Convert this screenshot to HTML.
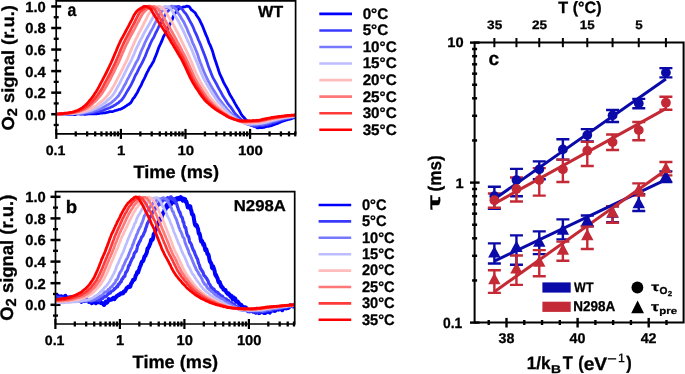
<!DOCTYPE html>
<html><head><meta charset="utf-8"><style>
html,body{margin:0;padding:0;background:#fff;overflow:hidden;}
svg{display:block;will-change:transform;}
text{font-family:"Liberation Sans",sans-serif;font-weight:bold;fill:#000;stroke:#000;stroke-width:0.3px;text-rendering:geometricPrecision;}
</style></head><body>
<svg width="685" height="374" viewBox="0 0 685 374">
<rect width="685" height="374" fill="#fff"/>
<path d="M51.2 114.2 H61.2" stroke="#000" stroke-width="2.5"/>
<path d="M51.2 92.65 H61.2" stroke="#000" stroke-width="2.5"/>
<path d="M51.2 71.1 H61.2" stroke="#000" stroke-width="2.5"/>
<path d="M51.2 49.55 H61.2" stroke="#000" stroke-width="2.5"/>
<path d="M51.2 28 H61.2" stroke="#000" stroke-width="2.5"/>
<path d="M51.2 6.45 H61.2" stroke="#000" stroke-width="2.5"/>
<path d="M53.7 124.98 H58.7" stroke="#000" stroke-width="2.3"/>
<path d="M53.7 103.42 H58.7" stroke="#000" stroke-width="2.3"/>
<path d="M53.7 81.88 H58.7" stroke="#000" stroke-width="2.3"/>
<path d="M53.7 60.33 H58.7" stroke="#000" stroke-width="2.3"/>
<path d="M53.7 38.78 H58.7" stroke="#000" stroke-width="2.3"/>
<path d="M53.7 17.22 H58.7" stroke="#000" stroke-width="2.3"/>
<path d="M56.3 128.9 V138.9" stroke="#000" stroke-width="2.2"/>
<path d="M75.75 131.4 V136.4" stroke="#000" stroke-width="2.3"/>
<path d="M87.12 131.4 V136.4" stroke="#000" stroke-width="2.3"/>
<path d="M95.19 131.4 V136.4" stroke="#000" stroke-width="2.3"/>
<path d="M101.45 131.4 V136.4" stroke="#000" stroke-width="2.3"/>
<path d="M106.57 131.4 V136.4" stroke="#000" stroke-width="2.3"/>
<path d="M110.89 131.4 V136.4" stroke="#000" stroke-width="2.3"/>
<path d="M114.64 131.4 V136.4" stroke="#000" stroke-width="2.3"/>
<path d="M117.94 131.4 V136.4" stroke="#000" stroke-width="2.3"/>
<path d="M120.9 128.9 V138.9" stroke="#000" stroke-width="2.2"/>
<path d="M140.35 131.4 V136.4" stroke="#000" stroke-width="2.3"/>
<path d="M151.72 131.4 V136.4" stroke="#000" stroke-width="2.3"/>
<path d="M159.79 131.4 V136.4" stroke="#000" stroke-width="2.3"/>
<path d="M166.05 131.4 V136.4" stroke="#000" stroke-width="2.3"/>
<path d="M171.17 131.4 V136.4" stroke="#000" stroke-width="2.3"/>
<path d="M175.49 131.4 V136.4" stroke="#000" stroke-width="2.3"/>
<path d="M179.24 131.4 V136.4" stroke="#000" stroke-width="2.3"/>
<path d="M182.54 131.4 V136.4" stroke="#000" stroke-width="2.3"/>
<path d="M185.5 128.9 V138.9" stroke="#000" stroke-width="2.2"/>
<path d="M204.95 131.4 V136.4" stroke="#000" stroke-width="2.3"/>
<path d="M216.32 131.4 V136.4" stroke="#000" stroke-width="2.3"/>
<path d="M224.39 131.4 V136.4" stroke="#000" stroke-width="2.3"/>
<path d="M230.65 131.4 V136.4" stroke="#000" stroke-width="2.3"/>
<path d="M235.77 131.4 V136.4" stroke="#000" stroke-width="2.3"/>
<path d="M240.09 131.4 V136.4" stroke="#000" stroke-width="2.3"/>
<path d="M243.84 131.4 V136.4" stroke="#000" stroke-width="2.3"/>
<path d="M247.14 131.4 V136.4" stroke="#000" stroke-width="2.3"/>
<path d="M250.1 128.9 V138.9" stroke="#000" stroke-width="2.2"/>
<path d="M269.55 131.4 V136.4" stroke="#000" stroke-width="2.3"/>
<path d="M280.92 131.4 V136.4" stroke="#000" stroke-width="2.3"/>
<path d="M288.99 131.4 V136.4" stroke="#000" stroke-width="2.3"/>
<path d="M295.25 131.4 V136.4" stroke="#000" stroke-width="2.3"/>
<path d="M50.5 304.8 H60.5" stroke="#000" stroke-width="2.5"/>
<path d="M50.5 283.2 H60.5" stroke="#000" stroke-width="2.5"/>
<path d="M50.5 261.6 H60.5" stroke="#000" stroke-width="2.5"/>
<path d="M50.5 240 H60.5" stroke="#000" stroke-width="2.5"/>
<path d="M50.5 218.4 H60.5" stroke="#000" stroke-width="2.5"/>
<path d="M50.5 196.8 H60.5" stroke="#000" stroke-width="2.5"/>
<path d="M53 315.6 H58" stroke="#000" stroke-width="2.3"/>
<path d="M53 294 H58" stroke="#000" stroke-width="2.3"/>
<path d="M53 272.4 H58" stroke="#000" stroke-width="2.3"/>
<path d="M53 250.8 H58" stroke="#000" stroke-width="2.3"/>
<path d="M53 229.2 H58" stroke="#000" stroke-width="2.3"/>
<path d="M53 207.6 H58" stroke="#000" stroke-width="2.3"/>
<path d="M55.4 319 V329" stroke="#000" stroke-width="2.2"/>
<path d="M74.82 321.5 V326.5" stroke="#000" stroke-width="2.3"/>
<path d="M86.17 321.5 V326.5" stroke="#000" stroke-width="2.3"/>
<path d="M94.23 321.5 V326.5" stroke="#000" stroke-width="2.3"/>
<path d="M100.48 321.5 V326.5" stroke="#000" stroke-width="2.3"/>
<path d="M105.59 321.5 V326.5" stroke="#000" stroke-width="2.3"/>
<path d="M109.91 321.5 V326.5" stroke="#000" stroke-width="2.3"/>
<path d="M113.65 321.5 V326.5" stroke="#000" stroke-width="2.3"/>
<path d="M116.95 321.5 V326.5" stroke="#000" stroke-width="2.3"/>
<path d="M119.9 319 V329" stroke="#000" stroke-width="2.2"/>
<path d="M139.32 321.5 V326.5" stroke="#000" stroke-width="2.3"/>
<path d="M150.67 321.5 V326.5" stroke="#000" stroke-width="2.3"/>
<path d="M158.73 321.5 V326.5" stroke="#000" stroke-width="2.3"/>
<path d="M164.98 321.5 V326.5" stroke="#000" stroke-width="2.3"/>
<path d="M170.09 321.5 V326.5" stroke="#000" stroke-width="2.3"/>
<path d="M174.41 321.5 V326.5" stroke="#000" stroke-width="2.3"/>
<path d="M178.15 321.5 V326.5" stroke="#000" stroke-width="2.3"/>
<path d="M181.45 321.5 V326.5" stroke="#000" stroke-width="2.3"/>
<path d="M184.4 319 V329" stroke="#000" stroke-width="2.2"/>
<path d="M203.82 321.5 V326.5" stroke="#000" stroke-width="2.3"/>
<path d="M215.17 321.5 V326.5" stroke="#000" stroke-width="2.3"/>
<path d="M223.23 321.5 V326.5" stroke="#000" stroke-width="2.3"/>
<path d="M229.48 321.5 V326.5" stroke="#000" stroke-width="2.3"/>
<path d="M234.59 321.5 V326.5" stroke="#000" stroke-width="2.3"/>
<path d="M238.91 321.5 V326.5" stroke="#000" stroke-width="2.3"/>
<path d="M242.65 321.5 V326.5" stroke="#000" stroke-width="2.3"/>
<path d="M245.95 321.5 V326.5" stroke="#000" stroke-width="2.3"/>
<path d="M248.9 319 V329" stroke="#000" stroke-width="2.2"/>
<path d="M268.32 321.5 V326.5" stroke="#000" stroke-width="2.3"/>
<path d="M279.67 321.5 V326.5" stroke="#000" stroke-width="2.3"/>
<path d="M287.73 321.5 V326.5" stroke="#000" stroke-width="2.3"/>
<path d="M293.98 321.5 V326.5" stroke="#000" stroke-width="2.3"/>
<clipPath id="ca"><rect x="57.05" y="0.8" width="238.55" height="133.1"/></clipPath>
<g clip-path="url(#ca)" fill="none" stroke-width="2.8" stroke-linejoin="round" stroke-linecap="round">
<path d="M55.01 113.94 L55.98 114.1 L56.95 114.41 L57.91 114.25 L58.88 114.14 L59.85 114.27 L60.82 114.19 L61.79 114.17 L62.76 114.2 L63.73 114.2 L64.7 114.07 L65.67 114.03 L66.64 114.24 L67.6 114.07 L68.57 114.08 L69.54 114.18 L70.51 114.35 L71.48 114.16 L72.45 114.01 L73.42 114.4 L74.39 114.68 L75.36 114.58 L76.33 114.12 L77.29 113.74 L78.26 113.8 L79.23 113.86 L80.2 114.02 L81.17 113.98 L82.14 114.13 L83.11 114.13 L84.08 114.23 L85.05 114.27 L86.02 114.18 L86.98 114.12 L87.95 113.89 L88.92 113.92 L89.89 113.95 L90.86 113.92 L91.83 113.75 L92.8 113.86 L93.77 113.73 L94.74 113.79 L95.71 113.84 L96.67 113.74 L97.64 113.66 L98.61 113.51 L99.58 113.38 L100.55 113.18 L101.52 113.05 L102.49 113.06 L103.46 112.97 L104.43 112.86 L105.4 112.8 L106.36 112.5 L107.33 112.29 L108.3 112.11 L109.27 111.67 L110.24 111.65 L111.21 111.7 L112.18 111.56 L113.15 111.32 L114.12 111.01 L115.09 110.58 L116.05 110.47 L117.02 110.19 L117.99 109.83 L118.96 109.41 L119.93 109.34 L120.9 108.94 L121.87 108.43 L122.84 107.9 L123.81 107.42 L124.78 106.94 L125.74 106.24 L126.71 105.54 L127.68 104.75 L128.65 104.47 L129.62 103.63 L130.59 102.85 L131.56 101.51 L132.53 99.58 L133.5 98.15 L134.47 97.21 L135.43 95.57 L136.4 93.92 L137.37 92.46 L138.34 90.38 L139.31 88.37 L140.28 86.69 L141.25 85.04 L142.22 82.65 L143.19 80.65 L144.16 78.82 L145.12 76.87 L146.09 74.58 L147.06 72.54 L148.03 70.86 L149 68.9 L149.97 67.12 L150.94 65.86 L151.91 64.08 L152.88 62.59 L153.85 60.53 L154.81 58.06 L155.78 55.69 L156.75 53.21 L157.72 50.51 L158.69 47.78 L159.66 45.58 L160.63 43.67 L161.6 41.39 L162.57 39.09 L163.54 36.54 L164.5 35.04 L165.47 33.19 L166.44 31.17 L167.41 29.19 L168.38 27.09 L169.35 25.23 L170.32 23.68 L171.29 21.63 L172.26 19.51 L173.23 16.76 L174.19 14.42 L175.16 13.08 L176.13 11.98 L177.1 10.73 L178.07 9.75 L179.04 8.48 L180.01 7.86 L180.98 7.66 L181.95 7.54 L182.92 7.16 L183.88 6.79 L184.85 6.95 L185.82 6.53 L186.79 6.04 L187.76 6.3 L188.73 6.37 L189.7 7.22 L190.67 8.78 L191.64 10.03 L192.61 10.62 L193.57 11.5 L194.54 12.25 L195.51 13.3 L196.48 15.28 L197.45 16.71 L198.42 18.01 L199.39 19.58 L200.36 21.61 L201.33 23.63 L202.3 25.55 L203.26 27.97 L204.23 30.47 L205.2 32.87 L206.17 35.38 L207.14 37.54 L208.11 40.14 L209.08 43.17 L210.05 44.84 L211.02 47.16 L211.99 49.67 L212.95 52.63 L213.92 56.28 L214.89 59.24 L215.86 61.95 L216.83 64.96 L217.8 67.86 L218.77 71.01 L219.74 73.91 L220.71 75.88 L221.68 77.88 L222.64 80.13 L223.61 82.37 L224.58 84.2 L225.55 85.84 L226.52 87.57 L227.49 89.43 L228.46 91.63 L229.43 93.76 L230.4 95.47 L231.37 97.01 L232.33 98.6 L233.3 100.18 L234.27 102.15 L235.24 103.92 L236.21 105.6 L237.18 107.18 L238.15 108.6 L239.12 110.23 L240.09 112.06 L241.06 113.89 L242.02 115.38 L242.99 116.6 L243.96 117.52 L244.93 118.67 L245.9 119.9 L246.87 120.69 L247.84 121.67 L248.81 122.38 L249.78 122.99 L250.75 123.88 L251.71 124.54 L252.68 125.39 L253.65 126.07 L254.62 126.27 L255.59 126.82 L256.56 127.45 L257.53 127.85 L258.5 127.74 L259.47 127.44 L260.44 127.5 L261.4 127.61 L262.37 127.55 L263.34 127.4 L264.31 127.33 L265.28 126.83 L266.25 126.6 L267.22 126.46 L268.19 126.45 L269.16 126.09 L270.13 125.89 L271.09 125.87 L272.06 125.38 L273.03 124.96 L274 124.73 L274.97 124.34 L275.94 123.86 L276.91 123.6 L277.88 123.33 L278.85 122.76 L279.82 122.33 L280.78 121.94 L281.75 121.54 L282.72 121.13 L283.69 120.88 L284.66 120.65 L285.63 120.23 L286.6 119.79 L287.57 119.76 L288.54 119.33 L289.51 119.24 L290.47 119.07 L291.44 118.68 L292.41 118.22 L293.38 117.91 L294.35 117.84 L295.32 117.24 L296.29 117" stroke="#0000ff"/>
<path d="M55.01 113.98 L55.98 114.17 L56.95 114.38 L57.91 114.55 L58.88 114.29 L59.85 114.21 L60.82 114.21 L61.79 114.08 L62.76 114.08 L63.73 114.26 L64.7 114.27 L65.67 114.14 L66.64 113.95 L67.6 113.98 L68.57 114.22 L69.54 114.17 L70.51 113.86 L71.48 113.71 L72.45 113.9 L73.42 113.96 L74.39 113.79 L75.36 113.83 L76.33 113.69 L77.29 113.55 L78.26 113.63 L79.23 113.69 L80.2 113.65 L81.17 113.74 L82.14 113.71 L83.11 113.66 L84.08 113.57 L85.05 113.5 L86.02 113.4 L86.98 113.29 L87.95 113.14 L88.92 113 L89.89 112.81 L90.86 112.66 L91.83 112.75 L92.8 112.42 L93.77 112.39 L94.74 112.39 L95.71 112.1 L96.67 111.79 L97.64 111.56 L98.61 111.55 L99.58 111.28 L100.55 111.09 L101.52 111.08 L102.49 110.74 L103.46 110.16 L104.43 109.72 L105.4 109.33 L106.36 109.02 L107.33 108.68 L108.3 108.26 L109.27 107.79 L110.24 107.56 L111.21 107.07 L112.18 106.58 L113.15 106.21 L114.12 105.47 L115.09 105.05 L116.05 104.34 L117.02 103.47 L117.99 103.1 L118.96 102.34 L119.93 101.33 L120.9 100.72 L121.87 99.76 L122.84 98.45 L123.81 97.02 L124.78 95.47 L125.74 93.85 L126.71 92.13 L127.68 90.48 L128.65 88.9 L129.62 87.35 L130.59 85.69 L131.56 83.89 L132.53 81.74 L133.5 79.91 L134.47 77.52 L135.43 75.35 L136.4 73.8 L137.37 71.92 L138.34 69.82 L139.31 67.77 L140.28 66.17 L141.25 64.42 L142.22 62.66 L143.19 60.65 L144.16 58.46 L145.12 56.49 L146.09 54 L147.06 51.38 L148.03 49.04 L149 47.09 L149.97 44.63 L150.94 42.47 L151.91 40.43 L152.88 38.7 L153.85 37.13 L154.81 35 L155.78 32.76 L156.75 30.98 L157.72 29.08 L158.69 26.78 L159.66 24.85 L160.63 23.32 L161.6 21.45 L162.57 20.41 L163.54 18.69 L164.5 16.26 L165.47 14.52 L166.44 12.88 L167.41 11.6 L168.38 10.65 L169.35 9.58 L170.32 8.92 L171.29 8.52 L172.26 7.65 L173.23 6.99 L174.19 6.54 L175.16 6.86 L176.13 6.69 L177.1 6.59 L178.07 6.42 L179.04 6.37 L180.01 7.23 L180.98 8.29 L181.95 9.02 L182.92 10.08 L183.88 11.68 L184.85 12.76 L185.82 13.63 L186.79 15.16 L187.76 16.97 L188.73 18.74 L189.7 20.59 L190.67 22.55 L191.64 24.03 L192.61 26.01 L193.57 28.33 L194.54 30.79 L195.51 32.87 L196.48 34.85 L197.45 37.23 L198.42 39.72 L199.39 41.86 L200.36 44.1 L201.33 46.71 L202.3 49.16 L203.26 51.7 L204.23 54.31 L205.2 56.75 L206.17 59.52 L207.14 62.34 L208.11 65.36 L209.08 68.09 L210.05 70.58 L211.02 73.09 L211.99 75.44 L212.95 77.65 L213.92 79.41 L214.89 81.05 L215.86 82.85 L216.83 84.71 L217.8 86.64 L218.77 88.36 L219.74 90.16 L220.71 91.82 L221.68 93.68 L222.64 95.46 L223.61 97.05 L224.58 98.45 L225.55 99.96 L226.52 101.52 L227.49 103.06 L228.46 104.37 L229.43 105.73 L230.4 106.78 L231.37 108.16 L232.33 109.51 L233.3 110.92 L234.27 112.49 L235.24 113.79 L236.21 114.74 L237.18 115.63 L238.15 116.85 L239.12 117.79 L240.09 118.63 L241.06 119.66 L242.02 120.46 L242.99 120.98 L243.96 121.51 L244.93 122.03 L245.9 122.41 L246.87 123.09 L247.84 123.59 L248.81 123.92 L249.78 124.48 L250.75 125.29 L251.71 125.57 L252.68 125.69 L253.65 126.11 L254.62 126.24 L255.59 126.26 L256.56 126.23 L257.53 126.09 L258.5 125.77 L259.47 125.45 L260.44 125.33 L261.4 125.49 L262.37 125.62 L263.34 125.33 L264.31 125.11 L265.28 124.9 L266.25 124.82 L267.22 124.74 L268.19 124.37 L269.16 124.26 L270.13 123.84 L271.09 123.33 L272.06 122.91 L273.03 122.61 L274 122.66 L274.97 122.17 L275.94 121.74 L276.91 121.51 L277.88 121.18 L278.85 120.97 L279.82 120.49 L280.78 120.18 L281.75 120.06 L282.72 119.77 L283.69 119.44 L284.66 119.15 L285.63 118.74 L286.6 118.5 L287.57 118.16 L288.54 117.95 L289.51 117.91 L290.47 117.82 L291.44 117.72 L292.41 117.55 L293.38 117.3 L294.35 117.03 L295.32 116.94 L296.29 116.71" stroke="#3a3aff"/>
<path d="M55.01 114.17 L55.98 114.23 L56.95 114.23 L57.91 114.3 L58.88 114.16 L59.85 114.24 L60.82 114.14 L61.79 114.1 L62.76 114.02 L63.73 113.74 L64.7 113.92 L65.67 113.88 L66.64 113.83 L67.6 113.93 L68.57 113.76 L69.54 113.75 L70.51 113.72 L71.48 113.86 L72.45 113.82 L73.42 113.56 L74.39 113.53 L75.36 113.53 L76.33 113.44 L77.29 113.45 L78.26 113.61 L79.23 113.7 L80.2 113.6 L81.17 113.52 L82.14 113.42 L83.11 113.14 L84.08 112.94 L85.05 112.74 L86.02 112.57 L86.98 112.48 L87.95 112.32 L88.92 112.14 L89.89 112.04 L90.86 111.82 L91.83 111.53 L92.8 111.34 L93.77 111.09 L94.74 110.72 L95.71 110.3 L96.67 110.1 L97.64 109.91 L98.61 109.62 L99.58 109.12 L100.55 108.63 L101.52 108.58 L102.49 107.9 L103.46 107.27 L104.43 106.76 L105.4 106.31 L106.36 105.5 L107.33 104.97 L108.3 104.54 L109.27 103.98 L110.24 103.41 L111.21 102.68 L112.18 101.9 L113.15 101.02 L114.12 100.23 L115.09 99.39 L116.05 98.37 L117.02 97.34 L117.99 96.3 L118.96 95.03 L119.93 93.31 L120.9 91.86 L121.87 90.28 L122.84 88.44 L123.81 86.53 L124.78 84.74 L125.74 83.17 L126.71 81 L127.68 79.01 L128.65 77.35 L129.62 75.46 L130.59 73.53 L131.56 71.62 L132.53 69.81 L133.5 67.93 L134.47 65.87 L135.43 63.86 L136.4 61.91 L137.37 60.42 L138.34 58.54 L139.31 55.96 L140.28 53.48 L141.25 51.01 L142.22 48.86 L143.19 46.86 L144.16 44.61 L145.12 42.26 L146.09 40.32 L147.06 38.5 L148.03 36.46 L149 34.85 L149.97 32.94 L150.94 31.03 L151.91 29.46 L152.88 27.65 L153.85 25.56 L154.81 23.65 L155.78 21.85 L156.75 20.11 L157.72 18.41 L158.69 16.3 L159.66 14 L160.63 12.82 L161.6 11.55 L162.57 10.66 L163.54 9.44 L164.5 8.54 L165.47 8.09 L166.44 7.91 L167.41 7.6 L168.38 6.98 L169.35 7.03 L170.32 6.8 L171.29 6.11 L172.26 6.14 L173.23 6.92 L174.19 7.81 L175.16 8.7 L176.13 9.62 L177.1 11.25 L178.07 13.01 L179.04 14.34 L180.01 15.74 L180.98 17.6 L181.95 19.17 L182.92 20.58 L183.88 22.18 L184.85 24.34 L185.82 26.38 L186.79 28.32 L187.76 30.93 L188.73 33.16 L189.7 35.11 L190.67 37.35 L191.64 40.01 L192.61 42.76 L193.57 44.66 L194.54 46.81 L195.51 49.23 L196.48 51.53 L197.45 54.04 L198.42 57 L199.39 60.05 L200.36 62.61 L201.33 64.88 L202.3 67.42 L203.26 69.96 L204.23 72.37 L205.2 74.5 L206.17 76.55 L207.14 78.67 L208.11 80.7 L209.08 82.31 L210.05 84.15 L211.02 86.08 L211.99 87.54 L212.95 89.32 L213.92 90.84 L214.89 92.15 L215.86 93.77 L216.83 95.54 L217.8 97.09 L218.77 98.49 L219.74 100 L220.71 101.16 L221.68 102.38 L222.64 103.54 L223.61 104.83 L224.58 106.1 L225.55 107.16 L226.52 108.35 L227.49 109.61 L228.46 110.75 L229.43 111.83 L230.4 112.82 L231.37 113.79 L232.33 114.83 L233.3 115.8 L234.27 116.54 L235.24 117.18 L236.21 117.94 L237.18 118.85 L238.15 119.51 L239.12 120.23 L240.09 120.96 L241.06 121.41 L242.02 121.79 L242.99 122.25 L243.96 122.73 L244.93 123.18 L245.9 123.57 L246.87 124.09 L247.84 124.47 L248.81 124.57 L249.78 124.76 L250.75 124.82 L251.71 124.88 L252.68 124.79 L253.65 124.95 L254.62 124.92 L255.59 124.61 L256.56 124.44 L257.53 124.5 L258.5 124.25 L259.47 124.09 L260.44 124.1 L261.4 124.2 L262.37 124.31 L263.34 124.15 L264.31 123.81 L265.28 123.45 L266.25 123.26 L267.22 123.05 L268.19 122.77 L269.16 122.58 L270.13 122.19 L271.09 121.89 L272.06 121.47 L273.03 121.28 L274 121.15 L274.97 120.94 L275.94 120.71 L276.91 120.32 L277.88 120.08 L278.85 119.71 L279.82 119.3 L280.78 119.08 L281.75 118.77 L282.72 118.37 L283.69 118.27 L284.66 118.14 L285.63 118.11 L286.6 118.02 L287.57 117.76 L288.54 117.74 L289.51 117.68 L290.47 117.19 L291.44 116.98 L292.41 116.9 L293.38 116.59 L294.35 116.52 L295.32 116.5 L296.29 116.4" stroke="#7878ff"/>
<path d="M55.01 114.24 L55.98 114.14 L56.95 114.12 L57.91 114.05 L58.88 113.96 L59.85 113.95 L60.82 113.88 L61.79 113.85 L62.76 113.84 L63.73 113.99 L64.7 114.01 L65.67 113.95 L66.64 113.79 L67.6 113.73 L68.57 113.63 L69.54 113.6 L70.51 113.53 L71.48 113.36 L72.45 113.39 L73.42 113.44 L74.39 113.41 L75.36 113.19 L76.33 113.13 L77.29 113.18 L78.26 113.05 L79.23 112.92 L80.2 112.9 L81.17 112.65 L82.14 112.4 L83.11 112.38 L84.08 112.07 L85.05 111.78 L86.02 111.73 L86.98 111.54 L87.95 111.21 L88.92 110.9 L89.89 110.65 L90.86 110.48 L91.83 110.12 L92.8 109.69 L93.77 109.29 L94.74 108.83 L95.71 108.49 L96.67 108.01 L97.64 107.35 L98.61 106.92 L99.58 106.42 L100.55 105.75 L101.52 105.07 L102.49 104.34 L103.46 103.67 L104.43 103.05 L105.4 102.35 L106.36 101.54 L107.33 100.54 L108.3 99.62 L109.27 98.86 L110.24 97.89 L111.21 96.88 L112.18 95.85 L113.15 94.64 L114.12 93.22 L115.09 91.71 L116.05 89.92 L117.02 88.07 L117.99 86.28 L118.96 84.6 L119.93 82.8 L120.9 80.8 L121.87 78.81 L122.84 77.13 L123.81 75.23 L124.78 73.16 L125.74 71.09 L126.71 69.19 L127.68 67.2 L128.65 65.36 L129.62 63.44 L130.59 61.59 L131.56 59.6 L132.53 57.43 L133.5 55.35 L134.47 53 L135.43 50.5 L136.4 48.3 L137.37 46.4 L138.34 44.59 L139.31 42.33 L140.28 40.34 L141.25 38.64 L142.22 36.95 L143.19 34.81 L144.16 32.85 L145.12 31.21 L146.09 29.51 L147.06 27.98 L148.03 26.23 L149 24.56 L149.97 22.85 L150.94 21.01 L151.91 19.29 L152.88 17.52 L153.85 15.73 L154.81 14.03 L155.78 12.63 L156.75 11.54 L157.72 10.67 L158.69 9.72 L159.66 9.11 L160.63 8.3 L161.6 7.84 L162.57 7.73 L163.54 7.12 L164.5 6.53 L165.47 6.42 L166.44 6.54 L167.41 6.71 L168.38 7.03 L169.35 7.64 L170.32 8.4 L171.29 9.44 L172.26 10.9 L173.23 12.65 L174.19 14.39 L175.16 16.01 L176.13 17.47 L177.1 18.96 L178.07 20.7 L179.04 22.39 L180.01 24.43 L180.98 26.27 L181.95 28.2 L182.92 30.06 L183.88 32.09 L184.85 34.28 L185.82 36.57 L186.79 38.75 L187.76 40.83 L188.73 42.87 L189.7 45.13 L190.67 47.19 L191.64 49.34 L192.61 51.75 L193.57 54.18 L194.54 56.75 L195.51 59.06 L196.48 61.33 L197.45 63.78 L198.42 66.09 L199.39 68.43 L200.36 70.86 L201.33 73.26 L202.3 75.49 L203.26 77.65 L204.23 79.5 L205.2 81.12 L206.17 83.08 L207.14 84.85 L208.11 86.4 L209.08 87.94 L210.05 89.52 L211.02 91.24 L211.99 92.9 L212.95 94.4 L213.92 95.74 L214.89 97.17 L215.86 98.71 L216.83 100.04 L217.8 101.25 L218.77 102.49 L219.74 103.57 L220.71 104.6 L221.68 105.79 L222.64 106.76 L223.61 107.76 L224.58 108.9 L225.55 109.84 L226.52 110.92 L227.49 111.98 L228.46 112.88 L229.43 113.83 L230.4 114.69 L231.37 115.51 L232.33 116.28 L233.3 116.99 L234.27 117.66 L235.24 118.3 L236.21 118.99 L237.18 119.57 L238.15 120.09 L239.12 120.52 L240.09 120.97 L241.06 121.36 L242.02 121.91 L242.99 122.48 L243.96 122.82 L244.93 123.13 L245.9 123.36 L246.87 123.63 L247.84 123.78 L248.81 123.92 L249.78 124.07 L250.75 124.06 L251.71 124.02 L252.68 123.95 L253.65 123.64 L254.62 123.74 L255.59 123.9 L256.56 123.84 L257.53 123.64 L258.5 123.59 L259.47 123.61 L260.44 123.51 L261.4 123.28 L262.37 123.11 L263.34 122.89 L264.31 122.67 L265.28 122.44 L266.25 122.33 L267.22 121.99 L268.19 121.77 L269.16 121.5 L270.13 121.16 L271.09 121.04 L272.06 120.73 L273.03 120.42 L274 120.14 L274.97 120.02 L275.94 119.69 L276.91 119.4 L277.88 119.19 L278.85 118.96 L279.82 118.78 L280.78 118.65 L281.75 118.43 L282.72 118.24 L283.69 117.86 L284.66 117.66 L285.63 117.61 L286.6 117.33 L287.57 117.24 L288.54 117.21 L289.51 116.99 L290.47 116.73 L291.44 116.63 L292.41 116.54 L293.38 116.32 L294.35 116.22 L295.32 116.17 L296.29 116.1" stroke="#bcbcff"/>
<path d="M55.01 114.11 L55.98 114.13 L56.95 114.12 L57.91 114.13 L58.88 114.16 L59.85 114.07 L60.82 114.04 L61.79 113.94 L62.76 113.87 L63.73 113.77 L64.7 113.75 L65.67 113.73 L66.64 113.69 L67.6 113.57 L68.57 113.51 L69.54 113.41 L70.51 113.31 L71.48 113.24 L72.45 113.25 L73.42 113.25 L74.39 113.1 L75.36 112.87 L76.33 112.69 L77.29 112.56 L78.26 112.51 L79.23 112.36 L80.2 112.08 L81.17 111.86 L82.14 111.7 L83.11 111.51 L84.08 111.31 L85.05 110.96 L86.02 110.59 L86.98 110.33 L87.95 109.97 L88.92 109.55 L89.89 109.17 L90.86 108.79 L91.83 108.28 L92.8 107.77 L93.77 107.23 L94.74 106.63 L95.71 105.97 L96.67 105.27 L97.64 104.43 L98.61 103.7 L99.58 102.86 L100.55 102.05 L101.52 101.32 L102.49 100.59 L103.46 99.78 L104.43 98.79 L105.4 97.7 L106.36 96.62 L107.33 95.56 L108.3 94.33 L109.27 92.9 L110.24 91.61 L111.21 90.13 L112.18 88.4 L113.15 86.81 L114.12 85.19 L115.09 83.32 L116.05 81.52 L117.02 79.64 L117.99 77.69 L118.96 75.9 L119.93 74.04 L120.9 72.03 L121.87 70.29 L122.84 68.32 L123.81 66.18 L124.78 64.28 L125.74 62.55 L126.71 60.64 L127.68 58.36 L128.65 55.93 L129.62 53.47 L130.59 51.1 L131.56 48.84 L132.53 46.57 L133.5 44.33 L134.47 42.2 L135.43 40.13 L136.4 38.15 L137.37 36.28 L138.34 34.18 L139.31 32.25 L140.28 30.6 L141.25 28.81 L142.22 26.77 L143.19 24.81 L144.16 22.92 L145.12 20.96 L146.09 19.2 L147.06 17.25 L148.03 15.11 L149 13.51 L149.97 12.33 L150.94 11.34 L151.91 10.21 L152.88 9.27 L153.85 8.48 L154.81 7.85 L155.78 7.44 L156.75 7.1 L157.72 6.6 L158.69 6.39 L159.66 6.4 L160.63 6.72 L161.6 7.27 L162.57 8.11 L163.54 8.95 L164.5 9.94 L165.47 11.52 L166.44 13.3 L167.41 15.1 L168.38 16.51 L169.35 17.94 L170.32 19.38 L171.29 21.09 L172.26 22.8 L173.23 24.43 L174.19 26.21 L175.16 28.21 L176.13 30.01 L177.1 31.71 L178.07 33.61 L179.04 35.56 L180.01 37.51 L180.98 39.72 L181.95 41.71 L182.92 43.72 L183.88 45.7 L184.85 47.74 L185.82 49.63 L186.79 51.48 L187.76 53.66 L188.73 55.87 L189.7 58.02 L190.67 60.31 L191.64 62.44 L192.61 64.89 L193.57 67.3 L194.54 69.63 L195.51 71.82 L196.48 74 L197.45 75.96 L198.42 78 L199.39 79.88 L200.36 81.67 L201.33 83.39 L202.3 85.08 L203.26 86.68 L204.23 88.1 L205.2 89.64 L206.17 91.08 L207.14 92.67 L208.11 94.31 L209.08 95.75 L210.05 97.13 L211.02 98.48 L211.99 99.72 L212.95 100.87 L213.92 102.01 L214.89 103.06 L215.86 104.03 L216.83 105.02 L217.8 106.01 L218.77 106.94 L219.74 107.89 L220.71 108.79 L221.68 109.68 L222.64 110.57 L223.61 111.54 L224.58 112.29 L225.55 113.11 L226.52 113.83 L227.49 114.58 L228.46 115.26 L229.43 115.91 L230.4 116.62 L231.37 117.31 L232.33 117.9 L233.3 118.45 L234.27 119.07 L235.24 119.45 L236.21 119.79 L237.18 120.25 L238.15 120.67 L239.12 121.23 L240.09 121.62 L241.06 121.92 L242.02 122.25 L242.99 122.51 L243.96 122.7 L244.93 122.93 L245.9 123 L246.87 123.03 L247.84 123.01 L248.81 122.92 L249.78 122.95 L250.75 122.87 L251.71 122.91 L252.68 122.85 L253.65 122.8 L254.62 122.77 L255.59 122.63 L256.56 122.5 L257.53 122.46 L258.5 122.4 L259.47 122.26 L260.44 122.16 L261.4 122.1 L262.37 122.06 L263.34 121.74 L264.31 121.45 L265.28 121.34 L266.25 121.2 L267.22 120.85 L268.19 120.55 L269.16 120.35 L270.13 120.07 L271.09 119.81 L272.06 119.65 L273.03 119.41 L274 119.11 L274.97 118.96 L275.94 118.81 L276.91 118.53 L277.88 118.29 L278.85 118.12 L279.82 117.96 L280.78 117.75 L281.75 117.46 L282.72 117.41 L283.69 117.26 L284.66 117.05 L285.63 116.89 L286.6 116.81 L287.57 116.67 L288.54 116.55 L289.51 116.43 L290.47 116.35 L291.44 116.11 L292.41 115.98 L293.38 115.89 L294.35 115.86 L295.32 115.86 L296.29 115.73" stroke="#ffbcbc"/>
<path d="M55.01 114.21 L55.98 114.15 L56.95 114.12 L57.91 114.08 L58.88 114.03 L59.85 114.05 L60.82 113.99 L61.79 113.89 L62.76 113.78 L63.73 113.7 L64.7 113.6 L65.67 113.48 L66.64 113.38 L67.6 113.31 L68.57 113.25 L69.54 113.12 L70.51 112.99 L71.48 112.8 L72.45 112.7 L73.42 112.6 L74.39 112.46 L75.36 112.31 L76.33 112.07 L77.29 111.87 L78.26 111.6 L79.23 111.41 L80.2 111.08 L81.17 110.61 L82.14 110.19 L83.11 109.85 L84.08 109.58 L85.05 109.13 L86.02 108.6 L86.98 108.03 L87.95 107.35 L88.92 106.73 L89.89 106.07 L90.86 105.34 L91.83 104.48 L92.8 103.45 L93.77 102.58 L94.74 101.72 L95.71 100.68 L96.67 99.73 L97.64 98.66 L98.61 97.51 L99.58 96.46 L100.55 95.28 L101.52 93.97 L102.49 92.52 L103.46 91.08 L104.43 89.6 L105.4 87.9 L106.36 86.28 L107.33 84.46 L108.3 82.59 L109.27 80.83 L110.24 79 L111.21 77.12 L112.18 75.2 L113.15 73.33 L114.12 71.49 L115.09 69.48 L116.05 67.46 L117.02 65.45 L117.99 63.6 L118.96 61.52 L119.93 59.23 L120.9 56.93 L121.87 54.5 L122.84 52.36 L123.81 50.28 L124.78 47.89 L125.74 45.75 L126.71 43.78 L127.68 41.83 L128.65 39.78 L129.62 37.81 L130.59 36.01 L131.56 34.26 L132.53 32.48 L133.5 30.79 L134.47 29.1 L135.43 27.2 L136.4 25.28 L137.37 23.38 L138.34 21.74 L139.31 20.02 L140.28 17.96 L141.25 16.01 L142.22 14.38 L143.19 12.99 L144.16 11.69 L145.12 10.87 L146.09 9.94 L147.06 9.09 L148.03 8.55 L149 7.94 L149.97 7.37 L150.94 7.04 L151.91 6.81 L152.88 6.58 L153.85 6.49 L154.81 6.69 L155.78 7.27 L156.75 7.8 L157.72 8.63 L158.69 9.41 L159.66 10.88 L160.63 12.84 L161.6 14.59 L162.57 16.01 L163.54 17.56 L164.5 19.2 L165.47 20.83 L166.44 22.41 L167.41 23.89 L168.38 25.3 L169.35 27.03 L170.32 28.8 L171.29 30.57 L172.26 32.28 L173.23 34.09 L174.19 35.9 L175.16 37.66 L176.13 39.49 L177.1 41.29 L178.07 43.16 L179.04 45.02 L180.01 46.77 L180.98 48.66 L181.95 50.71 L182.92 52.4 L183.88 54.16 L184.85 56.01 L185.82 57.87 L186.79 59.97 L187.76 62.08 L188.73 64.21 L189.7 66.37 L190.67 68.68 L191.64 70.81 L192.61 72.97 L193.57 75.13 L194.54 77.23 L195.51 79.23 L196.48 81.02 L197.45 82.68 L198.42 84.31 L199.39 85.79 L200.36 87.4 L201.33 89 L202.3 90.44 L203.26 91.93 L204.23 93.37 L205.2 94.74 L206.17 96.2 L207.14 97.64 L208.11 98.88 L209.08 100.05 L210.05 101.1 L211.02 102.19 L211.99 103.31 L212.95 104.33 L213.92 105.12 L214.89 105.97 L215.86 106.79 L216.83 107.51 L217.8 108.39 L218.77 109.23 L219.74 110.09 L220.71 110.83 L221.68 111.64 L222.64 112.41 L223.61 113.03 L224.58 113.65 L225.55 114.28 L226.52 114.8 L227.49 115.49 L228.46 116.26 L229.43 116.91 L230.4 117.34 L231.37 117.82 L232.33 118.31 L233.3 118.8 L234.27 119.19 L235.24 119.52 L236.21 119.92 L237.18 120.27 L238.15 120.57 L239.12 120.89 L240.09 121.27 L241.06 121.52 L242.02 121.72 L242.99 121.89 L243.96 121.97 L244.93 122.08 L245.9 122.05 L246.87 122.03 L247.84 121.96 L248.81 121.97 L249.78 122 L250.75 121.97 L251.71 121.94 L252.68 121.81 L253.65 121.77 L254.62 121.72 L255.59 121.62 L256.56 121.55 L257.53 121.55 L258.5 121.49 L259.47 121.27 L260.44 121.13 L261.4 120.97 L262.37 120.76 L263.34 120.56 L264.31 120.28 L265.28 120.11 L266.25 119.9 L267.22 119.65 L268.19 119.44 L269.16 119.21 L270.13 119.01 L271.09 118.84 L272.06 118.62 L273.03 118.4 L274 118.16 L274.97 118.07 L275.94 117.96 L276.91 117.77 L277.88 117.53 L278.85 117.37 L279.82 117.24 L280.78 117.06 L281.75 117 L282.72 116.86 L283.69 116.68 L284.66 116.54 L285.63 116.41 L286.6 116.19 L287.57 116.06 L288.54 116 L289.51 115.92 L290.47 115.82 L291.44 115.7 L292.41 115.56 L293.38 115.45 L294.35 115.4 L295.32 115.39 L296.29 115.36" stroke="#ff7878"/>
<path d="M55.01 114.22 L55.98 114.24 L56.95 114.15 L57.91 114.06 L58.88 114.05 L59.85 113.97 L60.82 113.87 L61.79 113.75 L62.76 113.69 L63.73 113.6 L64.7 113.52 L65.67 113.39 L66.64 113.35 L67.6 113.26 L68.57 113.07 L69.54 112.84 L70.51 112.8 L71.48 112.75 L72.45 112.51 L73.42 112.16 L74.39 112.03 L75.36 111.82 L76.33 111.52 L77.29 111.17 L78.26 110.89 L79.23 110.59 L80.2 110.26 L81.17 109.88 L82.14 109.38 L83.11 108.89 L84.08 108.41 L85.05 107.82 L86.02 106.98 L86.98 106.25 L87.95 105.56 L88.92 104.77 L89.89 103.91 L90.86 103.01 L91.83 102.01 L92.8 100.94 L93.77 99.85 L94.74 98.75 L95.71 97.59 L96.67 96.27 L97.64 94.96 L98.61 93.58 L99.58 92.23 L100.55 90.91 L101.52 89.33 L102.49 87.64 L103.46 85.8 L104.43 83.87 L105.4 82.09 L106.36 80.36 L107.33 78.54 L108.3 76.74 L109.27 74.94 L110.24 73.07 L111.21 71.12 L112.18 69.06 L113.15 67.2 L114.12 65.23 L115.09 63.21 L116.05 61.12 L117.02 58.77 L117.99 56.5 L118.96 54.31 L119.93 51.83 L120.9 49.39 L121.87 47.22 L122.84 45.04 L123.81 42.9 L124.78 40.9 L125.74 39 L126.71 37.08 L127.68 35.26 L128.65 33.52 L129.62 31.66 L130.59 29.82 L131.56 27.96 L132.53 26.09 L133.5 24.34 L134.47 22.53 L135.43 20.51 L136.4 18.61 L137.37 16.73 L138.34 14.81 L139.31 13.13 L140.28 11.93 L141.25 11.04 L142.22 10.06 L143.19 9.24 L144.16 8.55 L145.12 7.83 L146.09 7.21 L147.06 6.9 L148.03 6.42 L149 6.19 L149.97 6.24 L150.94 6.73 L151.91 7.25 L152.88 7.81 L153.85 8.53 L154.81 9.4 L155.78 11.08 L156.75 12.95 L157.72 14.69 L158.69 16.33 L159.66 17.78 L160.63 19.35 L161.6 20.85 L162.57 22.33 L163.54 23.84 L164.5 25.45 L165.47 26.83 L166.44 28.39 L167.41 30.12 L168.38 31.89 L169.35 33.58 L170.32 35.21 L171.29 36.9 L172.26 38.54 L173.23 40.2 L174.19 41.91 L175.16 43.73 L176.13 45.51 L177.1 47.05 L178.07 48.78 L179.04 50.73 L180.01 52.4 L180.98 53.89 L181.95 55.66 L182.92 57.57 L183.88 59.49 L184.85 61.54 L185.82 63.49 L186.79 65.55 L187.76 67.86 L188.73 69.92 L189.7 72.02 L190.67 74.08 L191.64 76.35 L192.61 78.42 L193.57 80.21 L194.54 81.92 L195.51 83.5 L196.48 85.08 L197.45 86.77 L198.42 88.27 L199.39 89.71 L200.36 91.22 L201.33 92.61 L202.3 94.04 L203.26 95.46 L204.23 96.83 L205.2 98.08 L206.17 99.26 L207.14 100.43 L208.11 101.43 L209.08 102.47 L210.05 103.45 L211.02 104.21 L211.99 105.05 L212.95 105.89 L213.92 106.79 L214.89 107.61 L215.86 108.43 L216.83 109.21 L217.8 109.85 L218.77 110.49 L219.74 111.24 L220.71 111.95 L221.68 112.62 L222.64 113.23 L223.61 113.74 L224.58 114.3 L225.55 114.94 L226.52 115.57 L227.49 116.21 L228.46 116.78 L229.43 117.21 L230.4 117.68 L231.37 118.14 L232.33 118.58 L233.3 118.91 L234.27 119.19 L235.24 119.49 L236.21 119.78 L237.18 120.17 L238.15 120.54 L239.12 120.86 L240.09 121.13 L241.06 121.25 L242.02 121.45 L242.99 121.49 L243.96 121.49 L244.93 121.44 L245.9 121.4 L246.87 121.38 L247.84 121.37 L248.81 121.36 L249.78 121.31 L250.75 121.3 L251.71 121.3 L252.68 121.21 L253.65 121.17 L254.62 121.09 L255.59 121.02 L256.56 121.03 L257.53 120.97 L258.5 120.8 L259.47 120.69 L260.44 120.52 L261.4 120.31 L262.37 120.15 L263.34 119.92 L264.31 119.69 L265.28 119.53 L266.25 119.3 L267.22 119.01 L268.19 118.78 L269.16 118.67 L270.13 118.41 L271.09 118.21 L272.06 118.11 L273.03 117.97 L274 117.83 L274.97 117.59 L275.94 117.44 L276.91 117.28 L277.88 117.15 L278.85 116.94 L279.82 116.83 L280.78 116.68 L281.75 116.5 L282.72 116.41 L283.69 116.35 L284.66 116.2 L285.63 116.05 L286.6 115.96 L287.57 115.87 L288.54 115.78 L289.51 115.69 L290.47 115.6 L291.44 115.52 L292.41 115.37 L293.38 115.28 L294.35 115.25 L295.32 115.2 L296.29 115.12" stroke="#ff3a3a"/>
<path d="M55.01 114.22 L55.98 114.23 L56.95 114.05 L57.91 113.91 L58.88 113.81 L59.85 113.72 L60.82 113.73 L61.79 113.67 L62.76 113.56 L63.73 113.43 L64.7 113.21 L65.67 113.15 L66.64 113.18 L67.6 112.99 L68.57 112.81 L69.54 112.71 L70.51 112.43 L71.48 112.27 L72.45 112.09 L73.42 111.81 L74.39 111.51 L75.36 111.11 L76.33 110.78 L77.29 110.48 L78.26 110.1 L79.23 109.6 L80.2 109.09 L81.17 108.45 L82.14 107.8 L83.11 107.03 L84.08 106.25 L85.05 105.51 L86.02 104.67 L86.98 103.67 L87.95 102.55 L88.92 101.4 L89.89 100.24 L90.86 99.08 L91.83 97.95 L92.8 96.72 L93.77 95.23 L94.74 93.59 L95.71 92.25 L96.67 90.83 L97.64 89.17 L98.61 87.42 L99.58 85.55 L100.55 83.69 L101.52 81.94 L102.49 80.09 L103.46 78.16 L104.43 76.39 L105.4 74.49 L106.36 72.6 L107.33 70.59 L108.3 68.6 L109.27 66.64 L110.24 64.53 L111.21 62.53 L112.18 60.41 L113.15 58.09 L114.12 55.69 L115.09 53.42 L116.05 51.24 L117.02 48.87 L117.99 46.54 L118.96 44.37 L119.93 42.26 L120.9 40.1 L121.87 38.35 L122.84 36.7 L123.81 34.89 L124.78 33.06 L125.74 31.25 L126.71 29.43 L127.68 27.67 L128.65 25.89 L129.62 23.9 L130.59 22.06 L131.56 20.35 L132.53 18.43 L133.5 16.27 L134.47 14.46 L135.43 13.11 L136.4 11.8 L137.37 10.72 L138.34 9.81 L139.31 9.4 L140.28 8.55 L141.25 7.98 L142.22 7.47 L143.19 6.77 L144.16 6.28 L145.12 6.44 L146.09 6.45 L147.06 6.69 L148.03 7.26 L149 8 L149.97 8.61 L150.94 9.27 L151.91 10.95 L152.88 12.85 L153.85 14.53 L154.81 16 L155.78 17.42 L156.75 18.94 L157.72 20.64 L158.69 22.19 L159.66 23.57 L160.63 25.15 L161.6 26.62 L162.57 28.05 L163.54 29.59 L164.5 31.05 L165.47 32.47 L166.44 34.01 L167.41 35.65 L168.38 37.29 L169.35 38.76 L170.32 40.44 L171.29 42.29 L172.26 43.8 L173.23 45.31 L174.19 46.99 L175.16 48.58 L176.13 50.2 L177.1 51.7 L178.07 53.45 L179.04 55.14 L180.01 56.7 L180.98 58.39 L181.95 60.14 L182.92 62.05 L183.88 64.04 L184.85 65.99 L185.82 68.12 L186.79 70.26 L187.76 72.43 L188.73 74.47 L189.7 76.7 L190.67 78.63 L191.64 80.42 L192.61 82.19 L193.57 83.71 L194.54 85.38 L195.51 86.96 L196.48 88.4 L197.45 89.82 L198.42 91.31 L199.39 92.83 L200.36 94.23 L201.33 95.6 L202.3 96.87 L203.26 98.13 L204.23 99.39 L205.2 100.47 L206.17 101.45 L207.14 102.43 L208.11 103.29 L209.08 104.09 L210.05 104.95 L211.02 105.78 L211.99 106.61 L212.95 107.37 L213.92 108.06 L214.89 108.77 L215.86 109.55 L216.83 110.19 L217.8 110.75 L218.77 111.34 L219.74 111.96 L220.71 112.56 L221.68 113.07 L222.64 113.62 L223.61 114.18 L224.58 114.8 L225.55 115.38 L226.52 115.98 L227.49 116.57 L228.46 117.12 L229.43 117.55 L230.4 117.88 L231.37 118.12 L232.33 118.48 L233.3 118.8 L234.27 119.26 L235.24 119.53 L236.21 119.76 L237.18 120.14 L238.15 120.39 L239.12 120.51 L240.09 120.64 L241.06 120.8 L242.02 120.91 L242.99 120.87 L243.96 120.75 L244.93 120.77 L245.9 120.84 L246.87 120.88 L247.84 120.81 L248.81 120.68 L249.78 120.69 L250.75 120.79 L251.71 120.73 L252.68 120.58 L253.65 120.5 L254.62 120.58 L255.59 120.48 L256.56 120.33 L257.53 120.27 L258.5 120.28 L259.47 120.11 L260.44 119.88 L261.4 119.7 L262.37 119.46 L263.34 119.23 L264.31 119.01 L265.28 118.9 L266.25 118.63 L267.22 118.35 L268.19 118.23 L269.16 118.02 L270.13 117.9 L271.09 117.72 L272.06 117.47 L273.03 117.3 L274 117.2 L274.97 117.14 L275.94 116.95 L276.91 116.77 L277.88 116.59 L278.85 116.49 L279.82 116.51 L280.78 116.34 L281.75 116.15 L282.72 116.03 L283.69 115.98 L284.66 115.89 L285.63 115.75 L286.6 115.59 L287.57 115.46 L288.54 115.45 L289.51 115.38 L290.47 115.29 L291.44 115.13 L292.41 115.13 L293.38 115.03 L294.35 114.93 L295.32 114.98 L296.29 114.95" stroke="#ff0000"/>
</g>
<clipPath id="cb"><rect x="56.35" y="191.6" width="238.35" height="132.4"/></clipPath>
<g clip-path="url(#cb)" fill="none" stroke-width="3" stroke-linejoin="round" stroke-linecap="round">
<path d="M54.11 296.42 L54.63 296.42 L55.14 296.37 L55.66 296.81 L56.17 296.8 L56.69 297.11 L57.21 296.69 L57.72 295.5 L58.24 296.6 L58.75 296.73 L59.27 296.48 L59.79 296.95 L60.3 297.69 L60.82 297.41 L61.33 296.33 L61.85 297.31 L62.37 298.31 L62.88 297.58 L63.4 297.69 L63.91 298.04 L64.43 297.73 L64.95 296.02 L65.46 295.77 L65.98 297.34 L66.49 297.78 L67.01 297.96 L67.53 298.25 L68.04 297.75 L68.56 297.44 L69.07 297.81 L69.59 297.5 L70.11 297.18 L70.62 297.21 L71.14 298.09 L71.65 298.63 L72.17 298.6 L72.69 298.76 L73.2 299.58 L73.72 299.86 L74.23 299.66 L74.75 299.01 L75.27 299.05 L75.78 299.04 L76.3 298.17 L76.81 299.15 L77.33 299.8 L77.85 299.57 L78.36 298.32 L78.88 298.33 L79.39 299.54 L79.91 299.35 L80.43 299.54 L80.94 301.04 L81.46 301.79 L81.97 300.87 L82.49 298.68 L83.01 299.34 L83.52 300.01 L84.04 300.48 L84.55 300.34 L85.07 299.52 L85.59 300.64 L86.1 300.09 L86.62 299.13 L87.13 300.5 L87.65 301.05 L88.17 301.43 L88.68 301.91 L89.2 301.18 L89.71 300.39 L90.23 301.13 L90.75 301.63 L91.26 302.77 L91.78 303.15 L92.29 301.76 L92.81 302.56 L93.33 302.54 L93.84 301.9 L94.36 301.31 L94.87 302.39 L95.39 302.31 L95.91 303.19 L96.42 301.97 L96.94 301.38 L97.45 301.93 L97.97 302.17 L98.49 302.14 L99 302.07 L99.52 302.27 L100.03 301.19 L100.55 302.53 L101.07 303.05 L101.58 303.02 L102.1 303.1 L102.61 303.48 L103.13 303.72 L103.65 304.66 L104.16 304.99 L104.68 304.1 L105.19 302.38 L105.71 301.65 L106.23 302.98 L106.74 302.77 L107.26 302.61 L107.77 301.36 L108.29 300.54 L108.81 299.04 L109.32 300.1 L109.84 299.61 L110.35 299.88 L110.87 299.74 L111.39 299.24 L111.9 299.5 L112.42 298.6 L112.93 298.55 L113.45 297.75 L113.97 297.81 L114.48 299.12 L115 298.35 L115.51 297.41 L116.03 297.14 L116.55 296.23 L117.06 295.9 L117.58 295.81 L118.09 295.08 L118.61 295.15 L119.13 295.06 L119.64 294.03 L120.16 293.84 L120.67 293.35 L121.19 293.75 L121.71 293.63 L122.22 293.04 L122.74 292.73 L123.25 293.11 L123.77 291.7 L124.29 291.16 L124.8 291.18 L125.32 291.14 L125.83 289.84 L126.35 288.76 L126.87 288.03 L127.38 287.9 L127.9 287.1 L128.41 286.6 L128.93 286.64 L129.45 286.36 L129.96 286.9 L130.48 285.97 L130.99 283.98 L131.51 282.96 L132.03 282.53 L132.54 281.26 L133.06 279.92 L133.57 280.2 L134.09 279.25 L134.61 279.39 L135.12 277.75 L135.64 275.63 L136.15 275.03 L136.67 274.23 L137.19 271.93 L137.7 272.72 L138.22 272.35 L138.73 270.24 L139.25 269.11 L139.77 267.09 L140.28 266.16 L140.8 264.97 L141.31 263.35 L141.83 261.88 L142.35 261.6 L142.86 261.3 L143.38 260.46 L143.89 258.67 L144.41 256.73 L144.93 255.95 L145.44 255.87 L145.96 254.22 L146.47 253.62 L146.99 251.61 L147.51 248.5 L148.02 248.65 L148.54 247.09 L149.05 246.72 L149.57 244.8 L150.09 244.09 L150.6 242.46 L151.12 239.81 L151.63 239.74 L152.15 240.12 L152.67 239.45 L153.18 237.58 L153.7 234.27 L154.21 233.39 L154.73 233.71 L155.25 231.73 L155.76 229.04 L156.28 229.18 L156.79 228.17 L157.31 225.08 L157.83 224.79 L158.34 223.65 L158.86 220.91 L159.37 219.08 L159.89 218.83 L160.41 219.89 L160.92 219.3 L161.44 217.46 L161.95 215.57 L162.47 214.86 L162.99 213.1 L163.5 213.13 L164.02 211.7 L164.53 210 L165.05 208.97 L165.57 209.56 L166.08 207.61 L166.6 205.05 L167.11 205.45 L167.63 206.91 L168.15 204.04 L168.66 202.72 L169.18 204.9 L169.69 205.85 L170.21 203.94 L170.73 202.73 L171.24 204.19 L171.76 201.7 L172.27 199.23 L172.79 200.67 L173.31 199.85 L173.82 199.36 L174.34 201.14 L174.85 202.48 L175.37 199.93 L175.89 198.81 L176.4 198.48 L176.92 199.78 L177.43 198.16 L177.95 198.08 L178.47 198.95 L178.98 198.71 L179.5 199.19 L180.01 197.42 L180.53 197.04 L181.05 197.36 L181.56 198.3 L182.08 199.73 L182.59 200.64 L183.11 199.09 L183.63 198.5 L184.14 199.11 L184.66 199.58 L185.17 199.31 L185.69 201.77 L186.21 201.33 L186.72 202.57 L187.24 205.09 L187.75 207.4 L188.27 207.58 L188.79 207.44 L189.3 207.43 L189.82 206.13 L190.33 206.57 L190.85 209.62 L191.37 210.63 L191.88 213.77 L192.4 214.61 L192.91 214.44 L193.43 215.68 L193.95 218.96 L194.46 222.23 L194.98 224.61 L195.49 225.58 L196.01 225.38 L196.53 225.06 L197.04 225.92 L197.56 227.82 L198.07 228.92 L198.59 232.68 L199.11 234.03 L199.62 233.86 L200.14 236.03 L200.65 239.35 L201.17 241.46 L201.69 240.58 L202.2 241.27 L202.72 242.79 L203.23 244.62 L203.75 243.79 L204.27 244.8 L204.78 247.51 L205.3 250.17 L205.81 249.9 L206.33 249.24 L206.85 251.21 L207.36 254.01 L207.88 254.18 L208.39 254.42 L208.91 256.5 L209.43 259.53 L209.94 261.63 L210.46 262.08 L210.97 262.97 L211.49 264.09 L212.01 267.74 L212.52 268.4 L213.04 266.11 L213.55 267.83 L214.07 269.21 L214.59 270.82 L215.1 274.19 L215.62 275.34 L216.13 274.92 L216.65 276.95 L217.17 277.32 L217.68 278.88 L218.2 280.99 L218.71 282.32 L219.23 281.57 L219.75 282.16 L220.26 283.59 L220.78 285.33 L221.29 286.68 L221.81 286.54 L222.33 287.71 L222.84 287.71 L223.36 289.31 L223.87 289.83 L224.39 289.88 L224.91 289.67 L225.42 290.06 L225.94 291.35 L226.45 292.47 L226.97 292.66 L227.49 293.72 L228 293.05 L228.52 293.37 L229.03 294.75 L229.55 294.6 L230.07 295.99 L230.58 296.73 L231.1 295.74 L231.61 295.88 L232.13 297.71 L232.65 299.44 L233.16 299.58 L233.68 297.52 L234.19 298.21 L234.71 298.33 L235.23 298.4 L235.74 300.42 L236.26 301.69 L236.77 301.18 L237.29 301.16 L237.81 301.64 L238.32 302.4 L238.84 303.18 L239.35 304.71 L239.87 304.37 L240.39 304.48 L240.9 304.82 L241.42 304.97 L241.93 306.13 L242.45 307.17 L242.97 307.26 L243.48 306.85 L244 307.19 L244.51 307.82 L245.03 308.12 L245.55 307.32 L246.06 307.66 L246.58 309.97 L247.09 310.01 L247.61 309.75 L248.13 310.41 L248.64 311.03 L249.16 310.79 L249.67 311.17 L250.19 311.26 L250.71 310.33 L251.22 309.82 L251.74 310.25 L252.25 310.61 L252.77 311.55 L253.29 311.26 L253.8 311.49 L254.32 311.79 L254.83 311.69 L255.35 311.61 L255.87 312.74 L256.38 312.2 L256.9 311.04 L257.41 312.12 L257.93 312.51 L258.45 311.81 L258.96 313.12 L259.48 313.04 L259.99 311.44 L260.51 311.78 L261.03 311.68 L261.54 311.07 L262.06 311.51 L262.57 312.11 L263.09 311.95 L263.61 311.91 L264.12 313 L264.64 312.66 L265.15 312.96 L265.67 312.73 L266.19 312.42 L266.7 311.06 L267.22 311.45 L267.73 311.18 L268.25 311.61 L268.77 311.88 L269.28 312.2 L269.8 312.54 L270.31 310.77 L270.83 310.1 L271.35 310.61 L271.86 310.68 L272.38 310.56 L272.89 310.27 L273.41 310.33 L273.93 310.4 L274.44 311.02 L274.96 310.74 L275.47 310.57 L275.99 309.86 L276.51 309.62 L277.02 309.53 L277.54 308.62 L278.05 309.32 L278.57 309.6 L279.09 309.05 L279.6 308.27 L280.12 308.45 L280.63 308.19 L281.15 307.93 L281.67 309.36 L282.18 310.22 L282.7 309.3 L283.21 308.28 L283.73 307.26 L284.25 307.27 L284.76 308.13 L285.28 308.19 L285.79 308.01 L286.31 308.37 L286.83 306.95 L287.34 307.54 L287.86 307.73 L288.37 307.93 L288.89 307.5 L289.41 306.92 L289.92 306.31 L290.44 305.28 L290.95 304.98 L291.47 305.2 L291.99 305.86 L292.5 305.99 L293.02 306.38 L293.53 306.5 L294.05 306.5 L294.57 304.83 L295.08 305.6" stroke="#0000ff" stroke-width="4.0"/>
<path d="M54.11 298.06 L54.63 297.59 L55.14 297.69 L55.66 297.92 L56.17 297.73 L56.69 297.61 L57.21 297.24 L57.72 297.35 L58.24 298.31 L58.75 298.84 L59.27 298.54 L59.79 297.39 L60.3 297.29 L60.82 298.13 L61.33 298.74 L61.85 298.41 L62.37 297.88 L62.88 298.3 L63.4 298.57 L63.91 298.28 L64.43 298.55 L64.95 299.08 L65.46 298.89 L65.98 299.05 L66.49 299.09 L67.01 299.31 L67.53 299.49 L68.04 299.4 L68.56 298.65 L69.07 298.85 L69.59 299.4 L70.11 298.34 L70.62 297.69 L71.14 299.25 L71.65 299.94 L72.17 300.32 L72.69 299.7 L73.2 299.12 L73.72 298.91 L74.23 299.53 L74.75 299.42 L75.27 299.88 L75.78 299.93 L76.3 300.08 L76.81 300.76 L77.33 300.76 L77.85 300.62 L78.36 299.73 L78.88 299.75 L79.39 299.85 L79.91 300.13 L80.43 300.53 L80.94 300.23 L81.46 300.38 L81.97 300.83 L82.49 300.29 L83.01 299.36 L83.52 299.47 L84.04 300.36 L84.55 300.87 L85.07 301.48 L85.59 301.17 L86.1 301.37 L86.62 301.12 L87.13 300.62 L87.65 300.91 L88.17 300.09 L88.68 300.23 L89.2 299.95 L89.71 300.14 L90.23 300.91 L90.75 301.13 L91.26 301.13 L91.78 300.78 L92.29 300.88 L92.81 300.71 L93.33 299.77 L93.84 299.43 L94.36 299.49 L94.87 300.18 L95.39 300.45 L95.91 299.92 L96.42 300.04 L96.94 299.91 L97.45 299.25 L97.97 299.52 L98.49 300.41 L99 300.63 L99.52 299.98 L100.03 299.45 L100.55 298.64 L101.07 297.91 L101.58 297.99 L102.1 298.22 L102.61 298.5 L103.13 297.71 L103.65 296.6 L104.16 296.75 L104.68 296.98 L105.19 296.42 L105.71 296.63 L106.23 296.33 L106.74 295.7 L107.26 294.77 L107.77 294.63 L108.29 293.59 L108.81 292.83 L109.32 293.16 L109.84 293.36 L110.35 292.95 L110.87 291.48 L111.39 291.43 L111.9 291.12 L112.42 290.9 L112.93 290.61 L113.45 290.16 L113.97 289.9 L114.48 288.54 L115 288.66 L115.51 288.3 L116.03 287.71 L116.55 287.03 L117.06 286.27 L117.58 286.67 L118.09 285.28 L118.61 284.04 L119.13 284.17 L119.64 283.56 L120.16 282.21 L120.67 282.22 L121.19 281.92 L121.71 279.73 L122.22 278.91 L122.74 278.98 L123.25 277.38 L123.77 276.57 L124.29 276.61 L124.8 276.31 L125.32 273.89 L125.83 272.08 L126.35 272.02 L126.87 271.34 L127.38 270.06 L127.9 268.74 L128.41 266.86 L128.93 265.37 L129.45 265.27 L129.96 263.72 L130.48 262.17 L130.99 261.44 L131.51 260.06 L132.03 259.1 L132.54 257.99 L133.06 257.57 L133.57 256.49 L134.09 254.07 L134.61 252.83 L135.12 252.47 L135.64 251.61 L136.15 251.46 L136.67 249.96 L137.19 247.82 L137.7 245.13 L138.22 244.99 L138.73 243.69 L139.25 242.01 L139.77 241.55 L140.28 240.63 L140.8 239.19 L141.31 237.64 L141.83 236.81 L142.35 236.43 L142.86 235.87 L143.38 234.8 L143.89 233.22 L144.41 232.29 L144.93 231.44 L145.44 229.07 L145.96 227.72 L146.47 226.53 L146.99 224.5 L147.51 223.14 L148.02 222.34 L148.54 221.62 L149.05 220.49 L149.57 218.54 L150.09 216.29 L150.6 216.67 L151.12 215.85 L151.63 214.77 L152.15 213.38 L152.67 211.81 L153.18 211.3 L153.7 210.96 L154.21 211.02 L154.73 210.24 L155.25 208.6 L155.76 207.29 L156.28 206.57 L156.79 207.16 L157.31 205.42 L157.83 204.66 L158.34 205.26 L158.86 203.52 L159.37 201.36 L159.89 203.02 L160.41 204.03 L160.92 203.01 L161.44 203.2 L161.95 201.87 L162.47 200.81 L162.99 200.03 L163.5 199.31 L164.02 199.39 L164.53 199.54 L165.05 199.94 L165.57 200.02 L166.08 198.86 L166.6 199.36 L167.11 199.35 L167.63 197.61 L168.15 198.65 L168.66 199.42 L169.18 198.1 L169.69 198.42 L170.21 198.36 L170.73 196.76 L171.24 196.89 L171.76 197.85 L172.27 198.55 L172.79 199.83 L173.31 200.02 L173.82 199.01 L174.34 199.32 L174.85 200.27 L175.37 201.88 L175.89 202.39 L176.4 203.46 L176.92 204.5 L177.43 206.6 L177.95 207.86 L178.47 209.67 L178.98 210.86 L179.5 212.43 L180.01 212.29 L180.53 214.3 L181.05 216.29 L181.56 216.84 L182.08 217.42 L182.59 219.09 L183.11 221.84 L183.63 221.99 L184.14 224.54 L184.66 226.55 L185.17 227.8 L185.69 227.4 L186.21 230.42 L186.72 233.26 L187.24 234.88 L187.75 236 L188.27 236.05 L188.79 237.4 L189.3 240.29 L189.82 242.45 L190.33 242.73 L190.85 243.55 L191.37 244.46 L191.88 246.36 L192.4 247.72 L192.91 249.1 L193.43 250.53 L193.95 250.9 L194.46 252.05 L194.98 253.78 L195.49 255.14 L196.01 256.03 L196.53 257.54 L197.04 258.45 L197.56 259.22 L198.07 261.37 L198.59 263.38 L199.11 264.37 L199.62 265.65 L200.14 267.76 L200.65 268.93 L201.17 269.45 L201.69 270.13 L202.2 271.32 L202.72 271.66 L203.23 272.81 L203.75 274.73 L204.27 275.63 L204.78 276.01 L205.3 276.55 L205.81 277.39 L206.33 278.05 L206.85 278.77 L207.36 279.91 L207.88 280.52 L208.39 282.02 L208.91 283.67 L209.43 284.16 L209.94 284.62 L210.46 285.7 L210.97 287.33 L211.49 287.46 L212.01 287.6 L212.52 288.33 L213.04 289.3 L213.55 289.6 L214.07 289.18 L214.59 290.58 L215.1 291.39 L215.62 291.6 L216.13 291.82 L216.65 291.86 L217.17 292.1 L217.68 292.68 L218.2 292.79 L218.71 294.02 L219.23 294.69 L219.75 294.35 L220.26 295.08 L220.78 295.73 L221.29 296.34 L221.81 296.36 L222.33 296.15 L222.84 296.74 L223.36 298.35 L223.87 298.2 L224.39 298.42 L224.91 299.43 L225.42 299.59 L225.94 299.58 L226.45 299.05 L226.97 299.95 L227.49 300.76 L228 300.45 L228.52 300.56 L229.03 301.45 L229.55 302.37 L230.07 302.87 L230.58 302.58 L231.1 302.62 L231.61 302.74 L232.13 303.15 L232.65 304.56 L233.16 304.64 L233.68 304.28 L234.19 304.2 L234.71 304.86 L235.23 305.59 L235.74 306.33 L236.26 306.49 L236.77 307.14 L237.29 308.08 L237.81 308.04 L238.32 307.01 L238.84 307.72 L239.35 308.9 L239.87 309.54 L240.39 309.47 L240.9 309 L241.42 309.65 L241.93 309.26 L242.45 308.6 L242.97 308.77 L243.48 308.73 L244 309.64 L244.51 309.72 L245.03 309.79 L245.55 309.98 L246.06 310.09 L246.58 310.03 L247.09 310.58 L247.61 311.55 L248.13 310.97 L248.64 311.07 L249.16 311.69 L249.67 311.21 L250.19 311.22 L250.71 311.28 L251.22 311.27 L251.74 311.25 L252.25 311.19 L252.77 311.7 L253.29 312.1 L253.8 311.57 L254.32 311.31 L254.83 312 L255.35 312.02 L255.87 311.76 L256.38 311.57 L256.9 310.74 L257.41 311.55 L257.93 312.26 L258.45 311.51 L258.96 311.85 L259.48 312.24 L259.99 311.67 L260.51 311.59 L261.03 311.85 L261.54 311.72 L262.06 311.17 L262.57 311.56 L263.09 311.76 L263.61 311.6 L264.12 311.4 L264.64 310.51 L265.15 310.89 L265.67 311.24 L266.19 310.56 L266.7 310.26 L267.22 309.95 L267.73 310.24 L268.25 310.76 L268.77 310.32 L269.28 310.49 L269.8 310.16 L270.31 309.58 L270.83 309.32 L271.35 309.89 L271.86 310.48 L272.38 309.81 L272.89 309.3 L273.41 308.66 L273.93 308.27 L274.44 308.61 L274.96 309.12 L275.47 308.95 L275.99 308.1 L276.51 308.25 L277.02 308.1 L277.54 307.03 L278.05 307.38 L278.57 308.05 L279.09 308.64 L279.6 308.84 L280.12 308.25 L280.63 307.41 L281.15 306.82 L281.67 307.09 L282.18 307.63 L282.7 306.97 L283.21 306.42 L283.73 307.05 L284.25 306.95 L284.76 307.3 L285.28 306.94 L285.79 306.13 L286.31 305.53 L286.83 305.99 L287.34 306.99 L287.86 307.02 L288.37 306.35 L288.89 305.78 L289.41 305.84 L289.92 305.84 L290.44 306.04 L290.95 305.56 L291.47 305.78 L291.99 305.9 L292.5 306.24 L293.02 305.49 L293.53 305 L294.05 305.38 L294.57 305.7 L295.08 305.85" stroke="#3a3aff" stroke-width="3.2"/>
<path d="M54.11 300.97 L54.63 301.36 L55.14 301.39 L55.66 301.09 L56.17 300.86 L56.69 300.75 L57.21 300.62 L57.72 300.26 L58.24 300.61 L58.75 300.73 L59.27 300.92 L59.79 301.04 L60.3 300.82 L60.82 300.67 L61.33 301.29 L61.85 301.7 L62.37 301.29 L62.88 300.85 L63.4 301.08 L63.91 300.77 L64.43 300.4 L64.95 300.79 L65.46 301.43 L65.98 301.11 L66.49 301.13 L67.01 301.21 L67.53 301.32 L68.04 300.96 L68.56 300.78 L69.07 301.19 L69.59 301.56 L70.11 301.32 L70.62 300.66 L71.14 300.99 L71.65 301.18 L72.17 300.96 L72.69 301.23 L73.2 301.34 L73.72 301.38 L74.23 301.07 L74.75 300.89 L75.27 300.68 L75.78 301.03 L76.3 301.35 L76.81 301.4 L77.33 301.11 L77.85 301.24 L78.36 301.2 L78.88 301.07 L79.39 300.73 L79.91 301.29 L80.43 301.51 L80.94 301.11 L81.46 301.03 L81.97 300.95 L82.49 300.6 L83.01 300.5 L83.52 300.4 L84.04 300.25 L84.55 300.64 L85.07 300.51 L85.59 300.7 L86.1 300.83 L86.62 301.42 L87.13 300.97 L87.65 300.37 L88.17 300.2 L88.68 300.51 L89.2 300.65 L89.71 300.04 L90.23 299.94 L90.75 300.63 L91.26 300.3 L91.78 299.93 L92.29 300.02 L92.81 300.31 L93.33 299.9 L93.84 299.71 L94.36 299.61 L94.87 299.14 L95.39 298.94 L95.91 298.89 L96.42 298.44 L96.94 298.42 L97.45 297.76 L97.97 297.8 L98.49 297.27 L99 297.26 L99.52 296.62 L100.03 296.15 L100.55 296.07 L101.07 295.61 L101.58 295.58 L102.1 295.19 L102.61 294.58 L103.13 294.11 L103.65 293.6 L104.16 292.91 L104.68 292.03 L105.19 292.05 L105.71 292.06 L106.23 291.73 L106.74 291.26 L107.26 290.8 L107.77 290.33 L108.29 289.36 L108.81 289.19 L109.32 289.19 L109.84 288.59 L110.35 287.58 L110.87 287.13 L111.39 286.97 L111.9 286.59 L112.42 285.87 L112.93 284.89 L113.45 284.47 L113.97 284.07 L114.48 283.15 L115 282.98 L115.51 281.7 L116.03 280.05 L116.55 279.58 L117.06 279.66 L117.58 278.59 L118.09 277.3 L118.61 275.73 L119.13 274.54 L119.64 273.25 L120.16 272.29 L120.67 271.53 L121.19 271 L121.71 269.9 L122.22 268.82 L122.74 267.7 L123.25 265.77 L123.77 264.93 L124.29 264.41 L124.8 262.71 L125.32 261.71 L125.83 260.34 L126.35 259.58 L126.87 258.82 L127.38 257.83 L127.9 256.76 L128.41 255.46 L128.93 254.3 L129.45 252.55 L129.96 251.53 L130.48 250.19 L130.99 248.86 L131.51 248.28 L132.03 246.93 L132.54 244.76 L133.06 244.39 L133.57 243.02 L134.09 241.02 L134.61 239.69 L135.12 238.92 L135.64 237.84 L136.15 235.73 L136.67 234.53 L137.19 233.75 L137.7 232.55 L138.22 230.86 L138.73 229.52 L139.25 228.83 L139.77 227.73 L140.28 226.72 L140.8 226.24 L141.31 224.01 L141.83 223.35 L142.35 221.96 L142.86 220.32 L143.38 219.12 L143.89 217.22 L144.41 215.76 L144.93 215.39 L145.44 214.32 L145.96 213.13 L146.47 212.06 L146.99 211.67 L147.51 211.09 L148.02 210.27 L148.54 209.11 L149.05 208.14 L149.57 207.98 L150.09 206.77 L150.6 206.23 L151.12 206.06 L151.63 206.09 L152.15 204.93 L152.67 203.44 L153.18 203.06 L153.7 202.18 L154.21 202.76 L154.73 202.71 L155.25 201.74 L155.76 201.5 L156.28 200.46 L156.79 199.66 L157.31 199.64 L157.83 199.89 L158.34 200 L158.86 199.12 L159.37 198.77 L159.89 198.95 L160.41 198.91 L160.92 198.81 L161.44 198.32 L161.95 198.19 L162.47 198.16 L162.99 197.78 L163.5 197.63 L164.02 197.95 L164.53 198.51 L165.05 198.9 L165.57 198.92 L166.08 199.4 L166.6 199.53 L167.11 200.02 L167.63 200.54 L168.15 202.09 L168.66 203.21 L169.18 203.86 L169.69 204.79 L170.21 205.92 L170.73 206.8 L171.24 207.6 L171.76 209.13 L172.27 210.97 L172.79 211.68 L173.31 211.91 L173.82 213.71 L174.34 215.06 L174.85 216.28 L175.37 217.51 L175.89 218.45 L176.4 219.36 L176.92 221.16 L177.43 222.91 L177.95 224.13 L178.47 225.64 L178.98 227.54 L179.5 228.24 L180.01 230.22 L180.53 231.12 L181.05 231.78 L181.56 233.14 L182.08 234.49 L182.59 236.15 L183.11 237.61 L183.63 237.74 L184.14 238.42 L184.66 240.8 L185.17 242.68 L185.69 244.09 L186.21 245.44 L186.72 246.66 L187.24 247.75 L187.75 249.29 L188.27 250.23 L188.79 252.19 L189.3 253.8 L189.82 254.6 L190.33 255.47 L190.85 256.67 L191.37 257.77 L191.88 259.15 L192.4 260.47 L192.91 261.69 L193.43 263.1 L193.95 264.23 L194.46 265.47 L194.98 266.74 L195.49 267.26 L196.01 269.1 L196.53 269.91 L197.04 270.54 L197.56 271.46 L198.07 272.19 L198.59 273.37 L199.11 274.54 L199.62 275.16 L200.14 275.66 L200.65 276.44 L201.17 277.67 L201.69 278.44 L202.2 279.56 L202.72 281.01 L203.23 282.11 L203.75 282.61 L204.27 283.5 L204.78 284.46 L205.3 284.47 L205.81 284.77 L206.33 285.7 L206.85 286.97 L207.36 287.74 L207.88 288.4 L208.39 288.72 L208.91 289.18 L209.43 289.72 L209.94 290.15 L210.46 290.27 L210.97 290.94 L211.49 291.56 L212.01 291.84 L212.52 291.96 L213.04 292.7 L213.55 293.2 L214.07 293.8 L214.59 293.89 L215.1 294.55 L215.62 295.29 L216.13 295.25 L216.65 296.04 L217.17 296.41 L217.68 296.24 L218.2 296.45 L218.71 296.99 L219.23 297.45 L219.75 297.84 L220.26 298.16 L220.78 298.62 L221.29 298.88 L221.81 298.79 L222.33 299.17 L222.84 299.15 L223.36 299.32 L223.87 299.87 L224.39 300.5 L224.91 301.29 L225.42 301.69 L225.94 301.99 L226.45 302.16 L226.97 302.28 L227.49 302.86 L228 302.78 L228.52 302.85 L229.03 303.25 L229.55 303.83 L230.07 304.86 L230.58 304.74 L231.1 304.71 L231.61 305.03 L232.13 305.37 L232.65 305.76 L233.16 306.09 L233.68 306.23 L234.19 306.37 L234.71 307.03 L235.23 307.16 L235.74 307.11 L236.26 307.51 L236.77 307.88 L237.29 308.35 L237.81 308.47 L238.32 308.56 L238.84 309.21 L239.35 309.13 L239.87 308.83 L240.39 308.88 L240.9 308.98 L241.42 309.23 L241.93 309.97 L242.45 310.18 L242.97 310.02 L243.48 310.32 L244 310.52 L244.51 310.17 L245.03 309.94 L245.55 309.98 L246.06 310.24 L246.58 310.31 L247.09 310.04 L247.61 310.48 L248.13 310.75 L248.64 310.78 L249.16 310.74 L249.67 310.72 L250.19 310.72 L250.71 310.86 L251.22 310.62 L251.74 310.43 L252.25 310.5 L252.77 310.71 L253.29 310.68 L253.8 310.29 L254.32 310.4 L254.83 310.09 L255.35 310.19 L255.87 310.93 L256.38 310.56 L256.9 310.6 L257.41 310.82 L257.93 310.47 L258.45 310.33 L258.96 310.36 L259.48 310.31 L259.99 310.48 L260.51 310.36 L261.03 309.97 L261.54 310.24 L262.06 310.8 L262.57 311.1 L263.09 310.83 L263.61 310.81 L264.12 310.55 L264.64 310.14 L265.15 310.21 L265.67 310.22 L266.19 309.87 L266.7 309.2 L267.22 309.11 L267.73 309.47 L268.25 309.6 L268.77 309.48 L269.28 309.76 L269.8 309.73 L270.31 309.36 L270.83 309.28 L271.35 309.13 L271.86 308.89 L272.38 308.7 L272.89 308.57 L273.41 308.74 L273.93 308.5 L274.44 308.21 L274.96 308.01 L275.47 308.18 L275.99 308.57 L276.51 308.73 L277.02 308.37 L277.54 308.33 L278.05 307.99 L278.57 307.82 L279.09 307.89 L279.6 307.54 L280.12 307.42 L280.63 307.68 L281.15 307.54 L281.67 307.59 L282.18 307.89 L282.7 307.51 L283.21 307.04 L283.73 306.88 L284.25 306.79 L284.76 307.09 L285.28 307.03 L285.79 306.98 L286.31 306.84 L286.83 306.69 L287.34 306.39 L287.86 306.18 L288.37 306.16 L288.89 306.26 L289.41 306.13 L289.92 306.19 L290.44 305.88 L290.95 305.38 L291.47 305.26 L291.99 305.6 L292.5 305.91 L293.02 305.43 L293.53 304.91 L294.05 305.01 L294.57 305.14 L295.08 305.21" stroke="#7878ff" stroke-width="2.9"/>
<path d="M54.11 302.9 L54.63 303.09 L55.14 303.21 L55.66 303.05 L56.17 303.01 L56.69 303.06 L57.21 302.8 L57.72 302.61 L58.24 302.64 L58.75 302.64 L59.27 302.64 L59.79 302.83 L60.3 302.9 L60.82 302.83 L61.33 302.65 L61.85 302.5 L62.37 302.85 L62.88 302.66 L63.4 302.81 L63.91 302.72 L64.43 302.65 L64.95 302.76 L65.46 302.52 L65.98 302.29 L66.49 302.34 L67.01 302.25 L67.53 302.47 L68.04 302.42 L68.56 302.26 L69.07 302.51 L69.59 302.51 L70.11 302.2 L70.62 302.09 L71.14 302 L71.65 302.24 L72.17 302.08 L72.69 301.88 L73.2 301.88 L73.72 301.9 L74.23 301.99 L74.75 301.92 L75.27 301.96 L75.78 301.86 L76.3 301.68 L76.81 301.83 L77.33 301.66 L77.85 301.46 L78.36 301.46 L78.88 301.52 L79.39 301.08 L79.91 300.89 L80.43 301.06 L80.94 301.06 L81.46 301.01 L81.97 301.04 L82.49 300.72 L83.01 300.57 L83.52 300.54 L84.04 300.45 L84.55 300.41 L85.07 300.03 L85.59 299.94 L86.1 300.34 L86.62 300.12 L87.13 299.79 L87.65 299.81 L88.17 299.76 L88.68 299.43 L89.2 299.09 L89.71 299.14 L90.23 299 L90.75 298.67 L91.26 298.59 L91.78 298.35 L92.29 298.15 L92.81 297.87 L93.33 297.54 L93.84 296.86 L94.36 296.51 L94.87 296.13 L95.39 296.06 L95.91 295.82 L96.42 295.4 L96.94 295.1 L97.45 294.73 L97.97 294.3 L98.49 293.76 L99 293.26 L99.52 292.76 L100.03 292.25 L100.55 291.74 L101.07 291.31 L101.58 290.86 L102.1 290.22 L102.61 289.95 L103.13 289.53 L103.65 288.54 L104.16 287.96 L104.68 287.59 L105.19 286.87 L105.71 286.45 L106.23 286.07 L106.74 285.47 L107.26 284.57 L107.77 283.99 L108.29 283.27 L108.81 282.64 L109.32 281.76 L109.84 281.03 L110.35 279.95 L110.87 279.01 L111.39 278.18 L111.9 277.3 L112.42 276.04 L112.93 275.06 L113.45 274.33 L113.97 273.37 L114.48 271.96 L115 270.99 L115.51 270.02 L116.03 268.46 L116.55 266.91 L117.06 265.53 L117.58 264.41 L118.09 263.48 L118.61 262.43 L119.13 260.96 L119.64 259.36 L120.16 258.55 L120.67 257.72 L121.19 256.44 L121.71 254.9 L122.22 253.76 L122.74 252.85 L123.25 251.9 L123.77 250.57 L124.29 249.12 L124.8 247.78 L125.32 246.09 L125.83 244.86 L126.35 243.89 L126.87 242.49 L127.38 240.68 L127.9 239.57 L128.41 238.37 L128.93 237.37 L129.45 236.08 L129.96 234.83 L130.48 233.33 L130.99 232.31 L131.51 231.42 L132.03 229.95 L132.54 228.77 L133.06 228.33 L133.57 226.75 L134.09 225.23 L134.61 223.64 L135.12 223.06 L135.64 222.6 L136.15 220.53 L136.67 219.1 L137.19 218.12 L137.7 216.75 L138.22 215.79 L138.73 214.93 L139.25 214.14 L139.77 213.48 L140.28 212.34 L140.8 211.45 L141.31 210.76 L141.83 209.33 L142.35 208.21 L142.86 208.12 L143.38 207.74 L143.89 206.94 L144.41 205.97 L144.93 205.41 L145.44 204.7 L145.96 203.83 L146.47 203.13 L146.99 202.84 L147.51 202.05 L148.02 201.52 L148.54 201.92 L149.05 201.75 L149.57 200.97 L150.09 200.29 L150.6 199.37 L151.12 199.09 L151.63 198.75 L152.15 198.43 L152.67 198.37 L153.18 198.49 L153.7 198.16 L154.21 198.02 L154.73 198.06 L155.25 197.62 L155.76 197.87 L156.28 198.01 L156.79 197.78 L157.31 197.84 L157.83 197.91 L158.34 198.98 L158.86 199.76 L159.37 200.05 L159.89 200.79 L160.41 201.38 L160.92 202.41 L161.44 203.28 L161.95 204.57 L162.47 206.26 L162.99 207.03 L163.5 207.14 L164.02 208.02 L164.53 209.35 L165.05 210.25 L165.57 211.37 L166.08 212.41 L166.6 213.79 L167.11 215.56 L167.63 216.42 L168.15 217.28 L168.66 218.21 L169.18 219.25 L169.69 220.4 L170.21 221.93 L170.73 223.61 L171.24 224.34 L171.76 225.62 L172.27 227.08 L172.79 228.24 L173.31 230.04 L173.82 231.65 L174.34 233.08 L174.85 233.79 L175.37 235.22 L175.89 236.37 L176.4 237.95 L176.92 239.17 L177.43 240.32 L177.95 241.92 L178.47 243.15 L178.98 244.41 L179.5 244.93 L180.01 246.22 L180.53 248.08 L181.05 249.28 L181.56 250.55 L182.08 251.69 L182.59 253.01 L183.11 253.95 L183.63 255.11 L184.14 255.95 L184.66 256.89 L185.17 258.3 L185.69 259.44 L186.21 260.64 L186.72 261.83 L187.24 263.09 L187.75 264.81 L188.27 265.96 L188.79 266.45 L189.3 267.44 L189.82 268.5 L190.33 269.49 L190.85 270.78 L191.37 271.72 L191.88 272.75 L192.4 273.76 L192.91 274.52 L193.43 274.82 L193.95 275.55 L194.46 276.65 L194.98 277.57 L195.49 278.1 L196.01 279.08 L196.53 280 L197.04 280.69 L197.56 281.32 L198.07 282.02 L198.59 282.66 L199.11 283.53 L199.62 284.03 L200.14 284.87 L200.65 285.65 L201.17 286.27 L201.69 286.84 L202.2 287.49 L202.72 288.18 L203.23 288.7 L203.75 289.27 L204.27 289.65 L204.78 290.34 L205.3 290.86 L205.81 291.06 L206.33 291.86 L206.85 292.23 L207.36 292.53 L207.88 292.66 L208.39 293.02 L208.91 293.72 L209.43 294.27 L209.94 294.48 L210.46 295.12 L210.97 295.53 L211.49 295.94 L212.01 296.04 L212.52 296.26 L213.04 296.52 L213.55 297.08 L214.07 297.38 L214.59 297.67 L215.1 298.22 L215.62 298.84 L216.13 298.9 L216.65 298.97 L217.17 299.27 L217.68 299.45 L218.2 299.92 L218.71 300.48 L219.23 300.6 L219.75 300.73 L220.26 300.92 L220.78 301.49 L221.29 301.59 L221.81 301.74 L222.33 302.26 L222.84 302.43 L223.36 302.72 L223.87 303.1 L224.39 303.41 L224.91 303.56 L225.42 303.86 L225.94 304.42 L226.45 304.51 L226.97 305.09 L227.49 305.12 L228 305.32 L228.52 305.45 L229.03 305.79 L229.55 306.1 L230.07 306.25 L230.58 306.34 L231.1 306.71 L231.61 307.08 L232.13 307.41 L232.65 307.39 L233.16 307.39 L233.68 307.78 L234.19 307.96 L234.71 307.89 L235.23 308.19 L235.74 308.01 L236.26 308.12 L236.77 308.55 L237.29 308.69 L237.81 308.77 L238.32 308.97 L238.84 309.26 L239.35 309.31 L239.87 309.35 L240.39 309.53 L240.9 309.86 L241.42 309.76 L241.93 309.45 L242.45 309.66 L242.97 309.66 L243.48 309.89 L244 310.13 L244.51 310.02 L245.03 310.32 L245.55 310.25 L246.06 310.03 L246.58 309.91 L247.09 310.03 L247.61 310.16 L248.13 310.31 L248.64 310.42 L249.16 310.42 L249.67 310.3 L250.19 310.4 L250.71 310.33 L251.22 310.3 L251.74 310.42 L252.25 310.36 L252.77 310.35 L253.29 310.42 L253.8 310.46 L254.32 310.25 L254.83 310.26 L255.35 310.05 L255.87 309.92 L256.38 310.22 L256.9 310.31 L257.41 310.15 L257.93 310.24 L258.45 310.27 L258.96 310.16 L259.48 310.2 L259.99 309.97 L260.51 310.05 L261.03 310.26 L261.54 310.11 L262.06 309.99 L262.57 309.69 L263.09 309.46 L263.61 309.47 L264.12 309.69 L264.64 309.54 L265.15 309.4 L265.67 309.27 L266.19 308.96 L266.7 308.82 L267.22 308.78 L267.73 308.9 L268.25 308.89 L268.77 308.6 L269.28 308.65 L269.8 308.66 L270.31 308.37 L270.83 308.01 L271.35 308.03 L271.86 308.14 L272.38 308 L272.89 307.76 L273.41 307.78 L273.93 307.68 L274.44 307.92 L274.96 307.67 L275.47 307.55 L275.99 307.5 L276.51 307.41 L277.02 307.08 L277.54 307.09 L278.05 307.05 L278.57 307.06 L279.09 307.12 L279.6 307.1 L280.12 307.09 L280.63 307.18 L281.15 306.96 L281.67 306.86 L282.18 306.54 L282.7 306.47 L283.21 306.42 L283.73 306.62 L284.25 306.65 L284.76 306.37 L285.28 306.36 L285.79 306.46 L286.31 306.53 L286.83 306.56 L287.34 306.31 L287.86 306.06 L288.37 306.06 L288.89 305.8 L289.41 305.78 L289.92 305.72 L290.44 305.83 L290.95 305.8 L291.47 305.47 L291.99 305.29 L292.5 305.26 L293.02 305.41 L293.53 305.24 L294.05 305.15 L294.57 305.22 L295.08 305.25" stroke="#bcbcff" stroke-width="2.7"/>
<path d="M54.11 301.94 L54.63 301.87 L55.14 301.85 L55.66 301.88 L56.17 301.85 L56.69 301.65 L57.21 301.54 L57.72 301.57 L58.24 301.67 L58.75 301.6 L59.27 301.62 L59.79 301.71 L60.3 301.66 L60.82 301.57 L61.33 301.48 L61.85 301.48 L62.37 301.53 L62.88 301.46 L63.4 301.37 L63.91 301.23 L64.43 301.21 L64.95 301.29 L65.46 301.25 L65.98 301.2 L66.49 301.17 L67.01 301.12 L67.53 301.14 L68.04 300.96 L68.56 300.95 L69.07 301.04 L69.59 300.95 L70.11 300.84 L70.62 300.65 L71.14 300.64 L71.65 300.72 L72.17 300.62 L72.69 300.41 L73.2 300.24 L73.72 300.19 L74.23 300.14 L74.75 299.95 L75.27 299.87 L75.78 299.92 L76.3 299.8 L76.81 299.63 L77.33 299.64 L77.85 299.64 L78.36 299.31 L78.88 299.22 L79.39 299.11 L79.91 298.98 L80.43 298.76 L80.94 298.69 L81.46 298.59 L81.97 298.51 L82.49 298.08 L83.01 297.87 L83.52 297.89 L84.04 297.74 L84.55 297.52 L85.07 297.22 L85.59 297.24 L86.1 297.21 L86.62 296.94 L87.13 296.43 L87.65 296.05 L88.17 295.92 L88.68 295.61 L89.2 295.19 L89.71 294.88 L90.23 294.56 L90.75 294.28 L91.26 294.02 L91.78 293.6 L92.29 293.16 L92.81 292.84 L93.33 292.29 L93.84 291.73 L94.36 291.2 L94.87 290.75 L95.39 290.25 L95.91 289.7 L96.42 289.06 L96.94 288.56 L97.45 288.06 L97.97 287.47 L98.49 286.82 L99 286.46 L99.52 285.7 L100.03 285.05 L100.55 284.39 L101.07 283.64 L101.58 282.81 L102.1 282.06 L102.61 281.33 L103.13 280.38 L103.65 279.63 L104.16 278.65 L104.68 277.67 L105.19 276.69 L105.71 275.53 L106.23 274.49 L106.74 273.49 L107.26 272.57 L107.77 271.43 L108.29 270.03 L108.81 268.93 L109.32 267.67 L109.84 266.33 L110.35 265.11 L110.87 263.78 L111.39 262.58 L111.9 261.37 L112.42 260.17 L112.93 259.03 L113.45 257.84 L113.97 256.53 L114.48 255.34 L115 253.92 L115.51 252.6 L116.03 251.62 L116.55 250.5 L117.06 249.11 L117.58 248.05 L118.09 246.71 L118.61 245.18 L119.13 244.03 L119.64 242.68 L120.16 241.41 L120.67 239.96 L121.19 238.62 L121.71 237.37 L122.22 236.19 L122.74 235.27 L123.25 234.45 L123.77 233.11 L124.29 231.84 L124.8 230.81 L125.32 229.74 L125.83 228.6 L126.35 227.56 L126.87 226.64 L127.38 225.32 L127.9 224.21 L128.41 223.26 L128.93 222.28 L129.45 221.03 L129.96 219.94 L130.48 219.05 L130.99 217.99 L131.51 216.88 L132.03 215.9 L132.54 214.85 L133.06 213.64 L133.57 212.74 L134.09 211.89 L134.61 211.28 L135.12 210.72 L135.64 209.5 L136.15 208.53 L136.67 207.74 L137.19 207.37 L137.7 206.7 L138.22 205.87 L138.73 205.09 L139.25 204.69 L139.77 203.84 L140.28 203.3 L140.8 202.71 L141.31 201.92 L141.83 201.61 L142.35 201.45 L142.86 200.98 L143.38 200.59 L143.89 200.39 L144.41 200.2 L144.93 199.87 L145.44 199.66 L145.96 199.08 L146.47 198.47 L146.99 197.96 L147.51 197.66 L148.02 197.57 L148.54 197.27 L149.05 197.05 L149.57 197.6 L150.09 197.79 L150.6 197.75 L151.12 198.08 L151.63 198.54 L152.15 199.24 L152.67 199.72 L153.18 200.15 L153.7 200.83 L154.21 201.62 L154.73 202.5 L155.25 203.55 L155.76 204.56 L156.28 205.52 L156.79 206.49 L157.31 207.37 L157.83 208.34 L158.34 209.55 L158.86 210.96 L159.37 212.13 L159.89 213.14 L160.41 214.07 L160.92 215.38 L161.44 216.61 L161.95 217.92 L162.47 218.88 L162.99 220.09 L163.5 221.51 L164.02 222.82 L164.53 223.84 L165.05 225.42 L165.57 226.81 L166.08 227.94 L166.6 229.22 L167.11 230.83 L167.63 232.16 L168.15 233.27 L168.66 234.77 L169.18 236.07 L169.69 237.28 L170.21 238.62 L170.73 240.03 L171.24 241.23 L171.76 242.63 L172.27 244.07 L172.79 245.7 L173.31 247.13 L173.82 248.36 L174.34 249.53 L174.85 250.58 L175.37 251.81 L175.89 252.87 L176.4 253.72 L176.92 254.72 L177.43 255.94 L177.95 257.16 L178.47 258.22 L178.98 259.13 L179.5 260.23 L180.01 261.29 L180.53 262.35 L181.05 263.58 L181.56 264.6 L182.08 265.69 L182.59 267.01 L183.11 268.09 L183.63 269.07 L184.14 270.11 L184.66 271.15 L185.17 271.95 L185.69 272.79 L186.21 273.72 L186.72 274.54 L187.24 275.26 L187.75 276.01 L188.27 276.72 L188.79 277.47 L189.3 278.2 L189.82 278.84 L190.33 279.69 L190.85 280.35 L191.37 280.86 L191.88 281.57 L192.4 282.19 L192.91 282.89 L193.43 283.74 L193.95 284.47 L194.46 285.07 L194.98 285.54 L195.49 286.17 L196.01 286.76 L196.53 287.26 L197.04 287.93 L197.56 288.56 L198.07 288.99 L198.59 289.47 L199.11 289.94 L199.62 290.24 L200.14 290.82 L200.65 291.31 L201.17 291.7 L201.69 292.19 L202.2 292.63 L202.72 293.04 L203.23 293.44 L203.75 293.65 L204.27 294.22 L204.78 294.7 L205.3 295.11 L205.81 295.43 L206.33 295.86 L206.85 296.14 L207.36 296.39 L207.88 296.7 L208.39 297.02 L208.91 297.35 L209.43 297.61 L209.94 298.01 L210.46 298.43 L210.97 298.83 L211.49 298.97 L212.01 299.15 L212.52 299.33 L213.04 299.68 L213.55 300.04 L214.07 300.37 L214.59 300.51 L215.1 300.72 L215.62 301.07 L216.13 301.38 L216.65 301.6 L217.17 301.84 L217.68 301.91 L218.2 302.18 L218.71 302.67 L219.23 303 L219.75 303.27 L220.26 303.47 L220.78 303.71 L221.29 303.94 L221.81 304.14 L222.33 304.38 L222.84 304.67 L223.36 304.8 L223.87 305.03 L224.39 305.23 L224.91 305.52 L225.42 305.84 L225.94 306.05 L226.45 306.19 L226.97 306.27 L227.49 306.3 L228 306.46 L228.52 306.7 L229.03 306.84 L229.55 306.94 L230.07 307.2 L230.58 307.37 L231.1 307.51 L231.61 307.66 L232.13 307.66 L232.65 307.82 L233.16 308.05 L233.68 308.2 L234.19 308.21 L234.71 308.37 L235.23 308.52 L235.74 308.61 L236.26 308.73 L236.77 308.7 L237.29 308.88 L237.81 309.05 L238.32 309.12 L238.84 309.16 L239.35 309.26 L239.87 309.24 L240.39 309.3 L240.9 309.26 L241.42 309.33 L241.93 309.45 L242.45 309.54 L242.97 309.55 L243.48 309.56 L244 309.6 L244.51 309.64 L245.03 309.65 L245.55 309.68 L246.06 309.69 L246.58 309.64 L247.09 309.7 L247.61 309.97 L248.13 309.85 L248.64 309.63 L249.16 309.72 L249.67 309.7 L250.19 309.68 L250.71 309.67 L251.22 309.58 L251.74 309.54 L252.25 309.74 L252.77 309.76 L253.29 309.68 L253.8 309.7 L254.32 309.79 L254.83 309.92 L255.35 309.76 L255.87 309.6 L256.38 309.6 L256.9 309.75 L257.41 309.71 L257.93 309.6 L258.45 309.43 L258.96 309.38 L259.48 309.25 L259.99 309.3 L260.51 309.26 L261.03 309.09 L261.54 309.16 L262.06 309.16 L262.57 309 L263.09 308.82 L263.61 308.78 L264.12 308.81 L264.64 308.75 L265.15 308.64 L265.67 308.6 L266.19 308.61 L266.7 308.53 L267.22 308.29 L267.73 308.16 L268.25 308.2 L268.77 308.18 L269.28 308.05 L269.8 307.99 L270.31 307.8 L270.83 307.85 L271.35 307.87 L271.86 307.76 L272.38 307.68 L272.89 307.49 L273.41 307.43 L273.93 307.52 L274.44 307.4 L274.96 307.17 L275.47 306.99 L275.99 307 L276.51 306.96 L277.02 306.89 L277.54 306.77 L278.05 306.82 L278.57 306.81 L279.09 306.61 L279.6 306.57 L280.12 306.62 L280.63 306.67 L281.15 306.61 L281.67 306.52 L282.18 306.38 L282.7 306.25 L283.21 306.18 L283.73 306.25 L284.25 306.26 L284.76 306.06 L285.28 305.93 L285.79 306 L286.31 305.82 L286.83 305.69 L287.34 305.68 L287.86 305.66 L288.37 305.62 L288.89 305.58 L289.41 305.48 L289.92 305.36 L290.44 305.19 L290.95 305.12 L291.47 305.14 L291.99 305.19 L292.5 305.15 L293.02 305.08 L293.53 305.09 L294.05 305.08 L294.57 305 L295.08 304.97" stroke="#ffbcbc" stroke-width="2.7"/>
<path d="M54.11 300.88 L54.63 300.84 L55.14 300.93 L55.66 300.88 L56.17 300.97 L56.69 301.01 L57.21 300.95 L57.72 300.92 L58.24 300.96 L58.75 300.87 L59.27 300.88 L59.79 300.95 L60.3 300.93 L60.82 300.83 L61.33 300.83 L61.85 300.73 L62.37 300.62 L62.88 300.48 L63.4 300.6 L63.91 300.48 L64.43 300.49 L64.95 300.45 L65.46 300.24 L65.98 300.06 L66.49 300.18 L67.01 300.3 L67.53 300.2 L68.04 300.18 L68.56 300.17 L69.07 299.99 L69.59 299.84 L70.11 299.61 L70.62 299.67 L71.14 299.62 L71.65 299.37 L72.17 299.36 L72.69 299.42 L73.2 299.34 L73.72 299.07 L74.23 298.82 L74.75 298.61 L75.27 298.45 L75.78 298.38 L76.3 298.28 L76.81 298.03 L77.33 297.88 L77.85 297.87 L78.36 297.74 L78.88 297.61 L79.39 297.43 L79.91 297.19 L80.43 297.06 L80.94 296.9 L81.46 296.62 L81.97 296.33 L82.49 296.15 L83.01 296.15 L83.52 296.05 L84.04 295.66 L84.55 295.38 L85.07 295.11 L85.59 294.74 L86.1 294.55 L86.62 294.26 L87.13 293.95 L87.65 293.73 L88.17 293.32 L88.68 292.95 L89.2 292.56 L89.71 292.05 L90.23 291.52 L90.75 290.99 L91.26 290.59 L91.78 290.03 L92.29 289.37 L92.81 288.93 L93.33 288.51 L93.84 288.09 L94.36 287.53 L94.87 286.95 L95.39 286.37 L95.91 285.6 L96.42 284.91 L96.94 284.34 L97.45 283.67 L97.97 282.98 L98.49 282.05 L99 281.29 L99.52 280.73 L100.03 279.82 L100.55 278.86 L101.07 277.81 L101.58 276.94 L102.1 275.89 L102.61 274.83 L103.13 273.78 L103.65 272.47 L104.16 271.43 L104.68 270.26 L105.19 269 L105.71 267.82 L106.23 266.29 L106.74 265 L107.26 263.87 L107.77 262.54 L108.29 261.39 L108.81 260.12 L109.32 258.84 L109.84 257.51 L110.35 256.66 L110.87 255.53 L111.39 254.33 L111.9 252.97 L112.42 251.61 L112.93 250.46 L113.45 249.22 L113.97 248.13 L114.48 246.42 L115 244.91 L115.51 243.57 L116.03 242.44 L116.55 241.25 L117.06 239.82 L117.58 238.46 L118.09 237.22 L118.61 236.06 L119.13 234.46 L119.64 233.2 L120.16 232.25 L120.67 231.19 L121.19 229.94 L121.71 228.82 L122.22 228.13 L122.74 226.99 L123.25 225.59 L123.77 224.57 L124.29 223.49 L124.8 222.42 L125.32 221.45 L125.83 220.19 L126.35 218.81 L126.87 218 L127.38 217.01 L127.9 215.87 L128.41 214.78 L128.93 213.87 L129.45 213.13 L129.96 212.04 L130.48 211.04 L130.99 210.44 L131.51 209.43 L132.03 208.72 L132.54 208.07 L133.06 207.28 L133.57 206.11 L134.09 205.18 L134.61 204.96 L135.12 204.26 L135.64 203.68 L136.15 203.2 L136.67 202.51 L137.19 202.06 L137.7 201.54 L138.22 201.13 L138.73 200.74 L139.25 199.97 L139.77 199.69 L140.28 199.4 L140.8 199.15 L141.31 198.85 L141.83 198.47 L142.35 198.03 L142.86 197.43 L143.38 197.2 L143.89 197.38 L144.41 197.42 L144.93 197.29 L145.44 197.54 L145.96 197.74 L146.47 197.82 L146.99 198.24 L147.51 199.16 L148.02 199.82 L148.54 200.34 L149.05 201.05 L149.57 201.77 L150.09 202.62 L150.6 203.77 L151.12 204.67 L151.63 205.4 L152.15 206.28 L152.67 207.5 L153.18 208.69 L153.7 209.62 L154.21 210.44 L154.73 211.58 L155.25 212.64 L155.76 213.74 L156.28 214.87 L156.79 215.77 L157.31 216.93 L157.83 218.34 L158.34 219.52 L158.86 220.52 L159.37 221.64 L159.89 222.62 L160.41 223.84 L160.92 225.3 L161.44 226.66 L161.95 228.04 L162.47 229.25 L162.99 230.55 L163.5 231.59 L164.02 232.75 L164.53 234.17 L165.05 235.38 L165.57 236.59 L166.08 238 L166.6 239.11 L167.11 240.07 L167.63 241.59 L168.15 242.91 L168.66 244.05 L169.18 245.54 L169.69 246.97 L170.21 248.17 L170.73 249.49 L171.24 250.57 L171.76 251.72 L172.27 252.99 L172.79 254.07 L173.31 255.15 L173.82 256.14 L174.34 256.94 L174.85 257.83 L175.37 258.95 L175.89 260.01 L176.4 260.96 L176.92 262.04 L177.43 263.26 L177.95 264.29 L178.47 265.5 L178.98 266.52 L179.5 267.51 L180.01 268.72 L180.53 269.64 L181.05 270.72 L181.56 271.71 L182.08 272.51 L182.59 273.4 L183.11 273.95 L183.63 274.7 L184.14 275.57 L184.66 276.39 L185.17 277.09 L185.69 277.88 L186.21 278.4 L186.72 278.99 L187.24 279.76 L187.75 280.57 L188.27 281.22 L188.79 281.83 L189.3 282.59 L189.82 283.06 L190.33 283.69 L190.85 284.47 L191.37 284.96 L191.88 285.58 L192.4 286.09 L192.91 286.69 L193.43 287.31 L193.95 287.84 L194.46 288.41 L194.98 288.84 L195.49 289.37 L196.01 289.86 L196.53 290.29 L197.04 290.81 L197.56 291.33 L198.07 291.56 L198.59 291.92 L199.11 292.36 L199.62 292.74 L200.14 293.16 L200.65 293.57 L201.17 294.05 L201.69 294.5 L202.2 294.8 L202.72 295.17 L203.23 295.51 L203.75 295.89 L204.27 296.29 L204.78 296.59 L205.3 296.91 L205.81 297.16 L206.33 297.66 L206.85 298.02 L207.36 298.22 L207.88 298.5 L208.39 298.81 L208.91 298.97 L209.43 299.22 L209.94 299.5 L210.46 299.83 L210.97 300.24 L211.49 300.45 L212.01 300.7 L212.52 300.87 L213.04 301.07 L213.55 301.23 L214.07 301.59 L214.59 301.97 L215.1 302.09 L215.62 302.28 L216.13 302.56 L216.65 302.85 L217.17 303.14 L217.68 303.37 L218.2 303.53 L218.71 303.67 L219.23 303.92 L219.75 304.18 L220.26 304.38 L220.78 304.41 L221.29 304.61 L221.81 304.85 L222.33 305.01 L222.84 305.06 L223.36 305.26 L223.87 305.56 L224.39 305.84 L224.91 305.94 L225.42 306.19 L225.94 306.38 L226.45 306.52 L226.97 306.74 L227.49 306.97 L228 306.92 L228.52 307.03 L229.03 307.16 L229.55 307.21 L230.07 307.44 L230.58 307.59 L231.1 307.52 L231.61 307.84 L232.13 308.1 L232.65 308.05 L233.16 308.17 L233.68 308.28 L234.19 308.36 L234.71 308.53 L235.23 308.52 L235.74 308.45 L236.26 308.48 L236.77 308.69 L237.29 308.81 L237.81 308.92 L238.32 308.87 L238.84 308.96 L239.35 309.02 L239.87 308.98 L240.39 309.05 L240.9 309.08 L241.42 309.08 L241.93 309.13 L242.45 309.21 L242.97 309.28 L243.48 309.36 L244 309.27 L244.51 309.34 L245.03 309.39 L245.55 309.38 L246.06 309.35 L246.58 309.28 L247.09 309.28 L247.61 309.23 L248.13 309.14 L248.64 309.11 L249.16 309.32 L249.67 309.41 L250.19 309.45 L250.71 309.47 L251.22 309.52 L251.74 309.4 L252.25 309.34 L252.77 309.37 L253.29 309.41 L253.8 309.44 L254.32 309.48 L254.83 309.43 L255.35 309.31 L255.87 309.26 L256.38 309.29 L256.9 309.12 L257.41 308.96 L257.93 308.97 L258.45 308.98 L258.96 308.99 L259.48 308.99 L259.99 308.93 L260.51 308.79 L261.03 308.76 L261.54 308.79 L262.06 308.68 L262.57 308.53 L263.09 308.38 L263.61 308.26 L264.12 308.33 L264.64 308.19 L265.15 308.03 L265.67 307.96 L266.19 307.98 L266.7 308.02 L267.22 308.01 L267.73 307.95 L268.25 307.78 L268.77 307.67 L269.28 307.46 L269.8 307.43 L270.31 307.46 L270.83 307.59 L271.35 307.36 L271.86 307.22 L272.38 307.3 L272.89 307.16 L273.41 306.98 L273.93 307.01 L274.44 307.03 L274.96 307.02 L275.47 306.78 L275.99 306.93 L276.51 306.86 L277.02 306.83 L277.54 306.53 L278.05 306.49 L278.57 306.44 L279.09 306.38 L279.6 306.33 L280.12 306.35 L280.63 306.26 L281.15 306.09 L281.67 306.04 L282.18 306.08 L282.7 306.17 L283.21 306.14 L283.73 306.14 L284.25 306.01 L284.76 306 L285.28 305.87 L285.79 305.8 L286.31 305.69 L286.83 305.66 L287.34 305.52 L287.86 305.65 L288.37 305.71 L288.89 305.63 L289.41 305.53 L289.92 305.31 L290.44 305.2 L290.95 305.37 L291.47 305.33 L291.99 305.25 L292.5 305.05 L293.02 305.02 L293.53 305.04 L294.05 305.06 L294.57 304.83 L295.08 304.72" stroke="#ff7878" stroke-width="2.7"/>
<path d="M54.11 300.16 L54.63 300.1 L55.14 300.15 L55.66 300.2 L56.17 300.01 L56.69 299.97 L57.21 300.05 L57.72 300.06 L58.24 299.99 L58.75 300.03 L59.27 299.91 L59.79 299.81 L60.3 299.83 L60.82 299.87 L61.33 299.84 L61.85 299.75 L62.37 299.56 L62.88 299.47 L63.4 299.54 L63.91 299.55 L64.43 299.55 L64.95 299.52 L65.46 299.47 L65.98 299.49 L66.49 299.31 L67.01 299.06 L67.53 298.97 L68.04 299.08 L68.56 298.91 L69.07 298.67 L69.59 298.64 L70.11 298.57 L70.62 298.48 L71.14 298.5 L71.65 298.22 L72.17 297.94 L72.69 297.87 L73.2 297.61 L73.72 297.51 L74.23 297.37 L74.75 297.2 L75.27 297.03 L75.78 296.95 L76.3 296.83 L76.81 296.43 L77.33 296.27 L77.85 296.04 L78.36 295.83 L78.88 295.64 L79.39 295.62 L79.91 295.47 L80.43 295.16 L80.94 294.87 L81.46 294.71 L81.97 294.5 L82.49 294.04 L83.01 293.77 L83.52 293.41 L84.04 293.18 L84.55 292.84 L85.07 292.66 L85.59 292.31 L86.1 291.86 L86.62 291.51 L87.13 291.11 L87.65 290.58 L88.17 290.2 L88.68 289.81 L89.2 289.35 L89.71 288.73 L90.23 288.23 L90.75 287.81 L91.26 287.29 L91.78 286.67 L92.29 285.81 L92.81 285.12 L93.33 284.79 L93.84 284.08 L94.36 283.15 L94.87 282.59 L95.39 281.87 L95.91 281.24 L96.42 280.42 L96.94 279.39 L97.45 278.42 L97.97 277.44 L98.49 276.44 L99 275.4 L99.52 274.45 L100.03 273.4 L100.55 272.03 L101.07 271.01 L101.58 269.96 L102.1 268.68 L102.61 267.42 L103.13 266.12 L103.65 264.82 L104.16 263.42 L104.68 262.13 L105.19 261.09 L105.71 259.66 L106.23 258.38 L106.74 257.25 L107.26 255.94 L107.77 254.94 L108.29 253.77 L108.81 252.66 L109.32 251.47 L109.84 250.07 L110.35 248.6 L110.87 247.11 L111.39 245.76 L111.9 244.28 L112.42 242.94 L112.93 241.6 L113.45 240.31 L113.97 238.86 L114.48 237.29 L115 235.88 L115.51 234.84 L116.03 233.57 L116.55 232.47 L117.06 231.13 L117.58 230.01 L118.09 228.9 L118.61 227.67 L119.13 226.83 L119.64 225.67 L120.16 224.23 L120.67 223.11 L121.19 222.07 L121.71 220.87 L122.22 219.64 L122.74 218.54 L123.25 217.58 L123.77 216.68 L124.29 215.66 L124.8 214.27 L125.32 213.34 L125.83 212.77 L126.35 211.93 L126.87 211 L127.38 209.97 L127.9 208.93 L128.41 208.06 L128.93 207.2 L129.45 206.37 L129.96 205.9 L130.48 205.3 L130.99 204.58 L131.51 203.93 L132.03 203.11 L132.54 202.24 L133.06 201.92 L133.57 201.42 L134.09 200.88 L134.61 200.48 L135.12 199.99 L135.64 199.59 L136.15 199.32 L136.67 199 L137.19 198.5 L137.7 197.9 L138.22 197.27 L138.73 197.07 L139.25 196.89 L139.77 196.9 L140.28 197.13 L140.8 197.42 L141.31 197.68 L141.83 198.1 L142.35 198.57 L142.86 199.14 L143.38 199.94 L143.89 200.85 L144.41 201.36 L144.93 202.28 L145.44 203.17 L145.96 203.63 L146.47 204.4 L146.99 205.6 L147.51 206.6 L148.02 207.48 L148.54 208.31 L149.05 209.42 L149.57 210.59 L150.09 211.37 L150.6 212.21 L151.12 213.25 L151.63 214.4 L152.15 215.46 L152.67 216.63 L153.18 217.71 L153.7 218.9 L154.21 219.98 L154.73 220.71 L155.25 221.85 L155.76 223.15 L156.28 224.28 L156.79 225.45 L157.31 226.73 L157.83 227.73 L158.34 228.81 L158.86 229.96 L159.37 231.05 L159.89 232.41 L160.41 233.75 L160.92 234.68 L161.44 235.78 L161.95 237.12 L162.47 238.53 L162.99 239.76 L163.5 240.88 L164.02 242.27 L164.53 243.43 L165.05 244.56 L165.57 245.8 L166.08 247.08 L166.6 248.53 L167.11 249.86 L167.63 250.91 L168.15 251.87 L168.66 252.85 L169.18 254.06 L169.69 255.06 L170.21 255.81 L170.73 256.88 L171.24 258.05 L171.76 258.9 L172.27 259.74 L172.79 260.85 L173.31 262.01 L173.82 263.13 L174.34 264.23 L174.85 265.21 L175.37 266.23 L175.89 267.22 L176.4 268.28 L176.92 269.35 L177.43 270.38 L177.95 271.23 L178.47 272.07 L178.98 272.88 L179.5 273.63 L180.01 274.37 L180.53 275.17 L181.05 276.04 L181.56 276.77 L182.08 277.36 L182.59 277.94 L183.11 278.54 L183.63 279.19 L184.14 279.88 L184.66 280.7 L185.17 281.37 L185.69 281.9 L186.21 282.32 L186.72 282.86 L187.24 283.71 L187.75 284.51 L188.27 284.99 L188.79 285.43 L189.3 286.05 L189.82 286.69 L190.33 287.26 L190.85 287.71 L191.37 288.22 L191.88 288.81 L192.4 289.36 L192.91 289.67 L193.43 290.14 L193.95 290.66 L194.46 291.07 L194.98 291.46 L195.49 291.93 L196.01 292.34 L196.53 292.75 L197.04 293.19 L197.56 293.57 L198.07 293.85 L198.59 294.02 L199.11 294.57 L199.62 295.04 L200.14 295.25 L200.65 295.59 L201.17 296.17 L201.69 296.41 L202.2 296.74 L202.72 297.14 L203.23 297.47 L203.75 297.73 L204.27 297.88 L204.78 298.25 L205.3 298.47 L205.81 298.87 L206.33 299.2 L206.85 299.46 L207.36 299.72 L207.88 299.96 L208.39 300.17 L208.91 300.41 L209.43 300.83 L209.94 301.16 L210.46 301.31 L210.97 301.53 L211.49 301.74 L212.01 301.96 L212.52 302.17 L213.04 302.31 L213.55 302.46 L214.07 302.73 L214.59 302.92 L215.1 303.15 L215.62 303.54 L216.13 303.7 L216.65 303.96 L217.17 304.12 L217.68 304.19 L218.2 304.37 L218.71 304.49 L219.23 304.54 L219.75 304.86 L220.26 304.96 L220.78 305.08 L221.29 305.34 L221.81 305.5 L222.33 305.63 L222.84 305.69 L223.36 305.71 L223.87 305.98 L224.39 306.31 L224.91 306.63 L225.42 306.61 L225.94 306.69 L226.45 306.86 L226.97 306.95 L227.49 307.17 L228 307.28 L228.52 307.34 L229.03 307.54 L229.55 307.68 L230.07 307.75 L230.58 307.64 L231.1 307.79 L231.61 307.88 L232.13 307.98 L232.65 307.9 L233.16 308.07 L233.68 308.28 L234.19 308.24 L234.71 308.24 L235.23 308.38 L235.74 308.42 L236.26 308.42 L236.77 308.39 L237.29 308.44 L237.81 308.62 L238.32 308.62 L238.84 308.64 L239.35 308.75 L239.87 308.66 L240.39 308.67 L240.9 308.77 L241.42 308.98 L241.93 309.01 L242.45 308.99 L242.97 308.92 L243.48 309.01 L244 309.01 L244.51 308.93 L245.03 308.96 L245.55 309.15 L246.06 309.11 L246.58 308.97 L247.09 309.05 L247.61 309.07 L248.13 308.98 L248.64 308.97 L249.16 308.96 L249.67 308.99 L250.19 308.99 L250.71 309.11 L251.22 309.1 L251.74 309.04 L252.25 309.06 L252.77 309.15 L253.29 309.07 L253.8 309 L254.32 308.92 L254.83 308.9 L255.35 309.04 L255.87 309.08 L256.38 308.77 L256.9 308.66 L257.41 308.69 L257.93 308.61 L258.45 308.55 L258.96 308.65 L259.48 308.64 L259.99 308.54 L260.51 308.53 L261.03 308.34 L261.54 308.29 L262.06 308.26 L262.57 308.02 L263.09 308.05 L263.61 307.93 L264.12 307.83 L264.64 307.82 L265.15 307.83 L265.67 307.69 L266.19 307.62 L266.7 307.61 L267.22 307.49 L267.73 307.52 L268.25 307.44 L268.77 307.15 L269.28 307.15 L269.8 307.1 L270.31 307.17 L270.83 307.01 L271.35 306.98 L271.86 307.06 L272.38 307.02 L272.89 306.91 L273.41 306.85 L273.93 306.69 L274.44 306.62 L274.96 306.59 L275.47 306.5 L275.99 306.46 L276.51 306.49 L277.02 306.35 L277.54 306.29 L278.05 306.27 L278.57 306.26 L279.09 306.29 L279.6 306.34 L280.12 306.16 L280.63 305.95 L281.15 306.03 L281.67 305.95 L282.18 305.93 L282.7 305.85 L283.21 305.8 L283.73 305.76 L284.25 305.77 L284.76 305.74 L285.28 305.53 L285.79 305.53 L286.31 305.54 L286.83 305.6 L287.34 305.6 L287.86 305.62 L288.37 305.57 L288.89 305.43 L289.41 305.32 L289.92 305.07 L290.44 304.97 L290.95 305.05 L291.47 305.12 L291.99 305.14 L292.5 305.09 L293.02 304.91 L293.53 304.96 L294.05 305.07 L294.57 304.81 L295.08 304.72" stroke="#ff3a3a" stroke-width="2.7"/>
<path d="M54.11 299.32 L54.63 299.39 L55.14 299.37 L55.66 299.3 L56.17 299.17 L56.69 299.15 L57.21 299.31 L57.72 299.38 L58.24 299.27 L58.75 299.21 L59.27 299.23 L59.79 299.22 L60.3 299 L60.82 298.9 L61.33 298.69 L61.85 298.65 L62.37 298.62 L62.88 298.67 L63.4 298.55 L63.91 298.52 L64.43 298.49 L64.95 298.52 L65.46 298.3 L65.98 298.16 L66.49 298.06 L67.01 297.91 L67.53 297.76 L68.04 297.63 L68.56 297.55 L69.07 297.43 L69.59 297.39 L70.11 297.21 L70.62 296.9 L71.14 296.76 L71.65 296.49 L72.17 296.46 L72.69 296.24 L73.2 296.03 L73.72 295.81 L74.23 295.6 L74.75 295.47 L75.27 295.36 L75.78 295.18 L76.3 294.76 L76.81 294.42 L77.33 294.33 L77.85 294.09 L78.36 293.67 L78.88 293.23 L79.39 293.09 L79.91 292.76 L80.43 292.63 L80.94 292.4 L81.46 291.96 L81.97 291.49 L82.49 291.09 L83.01 290.62 L83.52 290.27 L84.04 289.86 L84.55 289.44 L85.07 289.05 L85.59 288.79 L86.1 288.27 L86.62 287.56 L87.13 287.15 L87.65 286.62 L88.17 285.89 L88.68 285.43 L89.2 284.78 L89.71 284.12 L90.23 283.38 L90.75 282.58 L91.26 281.88 L91.78 281.31 L92.29 280.49 L92.81 279.57 L93.33 278.87 L93.84 278.16 L94.36 277.04 L94.87 275.8 L95.39 274.75 L95.91 273.77 L96.42 272.53 L96.94 271.36 L97.45 270.33 L97.97 269.04 L98.49 267.78 L99 266.55 L99.52 265.13 L100.03 263.73 L100.55 262.5 L101.07 261.15 L101.58 259.55 L102.1 258.49 L102.61 257.53 L103.13 256.19 L103.65 255.04 L104.16 253.9 L104.68 252.62 L105.19 251.52 L105.71 249.97 L106.23 248.45 L106.74 247.37 L107.26 245.98 L107.77 244.44 L108.29 243.14 L108.81 241.7 L109.32 240.18 L109.84 238.64 L110.35 237.49 L110.87 236.17 L111.39 234.62 L111.9 233.57 L112.42 232.58 L112.93 231.73 L113.45 230.62 L113.97 229.22 L114.48 228.06 L115 227.05 L115.51 225.82 L116.03 224.85 L116.55 223.84 L117.06 222.57 L117.58 221.41 L118.09 220.73 L118.61 219.54 L119.13 218.58 L119.64 217.62 L120.16 216.53 L120.67 215.24 L121.19 214.27 L121.71 213.5 L122.22 212.29 L122.74 211.37 L123.25 210.42 L123.77 209.61 L124.29 208.78 L124.8 207.77 L125.32 207 L125.83 206.15 L126.35 205.45 L126.87 204.68 L127.38 204.06 L127.9 203.16 L128.41 202.72 L128.93 202.4 L129.45 201.81 L129.96 201.45 L130.48 200.87 L130.99 200.35 L131.51 199.82 L132.03 199.28 L132.54 199.1 L133.06 198.68 L133.57 198.13 L134.09 197.68 L134.61 197.25 L135.12 197.02 L135.64 196.91 L136.15 197.03 L136.67 197.01 L137.19 197.21 L137.7 197.55 L138.22 197.9 L138.73 198.9 L139.25 199.54 L139.77 200.14 L140.28 201.02 L140.8 202.09 L141.31 203 L141.83 203.63 L142.35 204.54 L142.86 205.66 L143.38 206.61 L143.89 207.52 L144.41 208.59 L144.93 209.74 L145.44 210.97 L145.96 211.95 L146.47 212.76 L146.99 213.79 L147.51 214.92 L148.02 215.93 L148.54 216.95 L149.05 218.1 L149.57 219.16 L150.09 220.09 L150.6 221.4 L151.12 222.95 L151.63 224.05 L152.15 225.02 L152.67 225.99 L153.18 227.07 L153.7 228.12 L154.21 229.29 L154.73 230.64 L155.25 231.89 L155.76 233.12 L156.28 234.37 L156.79 235.68 L157.31 237.11 L157.83 238.37 L158.34 239.65 L158.86 241 L159.37 242.39 L159.89 243.69 L160.41 244.92 L160.92 246.15 L161.44 247.71 L161.95 249.07 L162.47 250.08 L162.99 251.17 L163.5 252.03 L164.02 253.29 L164.53 254.44 L165.05 255.48 L165.57 256.39 L166.08 257.23 L166.6 258.11 L167.11 259.09 L167.63 260.01 L168.15 260.97 L168.66 261.85 L169.18 263.09 L169.69 264.09 L170.21 264.9 L170.73 266.04 L171.24 267.31 L171.76 268.27 L172.27 269.27 L172.79 270.18 L173.31 271.11 L173.82 272.01 L174.34 272.81 L174.85 273.56 L175.37 274.38 L175.89 275.11 L176.4 275.79 L176.92 276.54 L177.43 277.01 L177.95 277.65 L178.47 278.51 L178.98 279.01 L179.5 279.68 L180.01 280.21 L180.53 280.66 L181.05 281.18 L181.56 281.95 L182.08 282.69 L182.59 283.22 L183.11 283.83 L183.63 284.22 L184.14 284.75 L184.66 285.2 L185.17 285.77 L185.69 286.46 L186.21 287.11 L186.72 287.66 L187.24 288.19 L187.75 288.44 L188.27 289.07 L188.79 289.54 L189.3 289.95 L189.82 290.38 L190.33 290.81 L190.85 291.22 L191.37 291.61 L191.88 292.06 L192.4 292.52 L192.91 292.88 L193.43 293.15 L193.95 293.58 L194.46 294.05 L194.98 294.47 L195.49 294.9 L196.01 295.13 L196.53 295.42 L197.04 295.72 L197.56 296 L198.07 296.44 L198.59 296.85 L199.11 297.04 L199.62 297.29 L200.14 297.78 L200.65 298.12 L201.17 298.4 L201.69 298.61 L202.2 298.83 L202.72 299.17 L203.23 299.36 L203.75 299.49 L204.27 299.77 L204.78 299.99 L205.3 300.34 L205.81 300.74 L206.33 300.91 L206.85 301.06 L207.36 301.35 L207.88 301.44 L208.39 301.67 L208.91 301.97 L209.43 302.24 L209.94 302.56 L210.46 302.66 L210.97 302.76 L211.49 302.95 L212.01 303.21 L212.52 303.4 L213.04 303.57 L213.55 303.72 L214.07 303.88 L214.59 304 L215.1 304.24 L215.62 304.53 L216.13 304.59 L216.65 304.7 L217.17 304.88 L217.68 305.06 L218.2 305.16 L218.71 305.19 L219.23 305.31 L219.75 305.59 L220.26 305.76 L220.78 305.76 L221.29 305.8 L221.81 305.95 L222.33 306.31 L222.84 306.52 L223.36 306.66 L223.87 306.75 L224.39 306.63 L224.91 306.66 L225.42 306.83 L225.94 307.11 L226.45 307.26 L226.97 307.32 L227.49 307.53 L228 307.53 L228.52 307.47 L229.03 307.5 L229.55 307.73 L230.07 307.72 L230.58 307.68 L231.1 307.88 L231.61 308.01 L232.13 308.04 L232.65 308.15 L233.16 308.18 L233.68 308.07 L234.19 308.01 L234.71 308.1 L235.23 308.15 L235.74 308.32 L236.26 308.35 L236.77 308.27 L237.29 308.32 L237.81 308.35 L238.32 308.47 L238.84 308.52 L239.35 308.47 L239.87 308.49 L240.39 308.63 L240.9 308.69 L241.42 308.65 L241.93 308.73 L242.45 308.64 L242.97 308.65 L243.48 308.77 L244 308.81 L244.51 308.73 L245.03 308.77 L245.55 308.76 L246.06 308.72 L246.58 308.7 L247.09 308.67 L247.61 308.68 L248.13 308.76 L248.64 308.76 L249.16 308.83 L249.67 308.83 L250.19 308.78 L250.71 308.8 L251.22 308.64 L251.74 308.67 L252.25 308.69 L252.77 308.74 L253.29 308.73 L253.8 308.61 L254.32 308.49 L254.83 308.46 L255.35 308.46 L255.87 308.47 L256.38 308.15 L256.9 308.09 L257.41 308.21 L257.93 308.12 L258.45 308.04 L258.96 308.2 L259.48 308.07 L259.99 308.05 L260.51 307.91 L261.03 307.72 L261.54 307.82 L262.06 307.79 L262.57 307.68 L263.09 307.66 L263.61 307.64 L264.12 307.5 L264.64 307.38 L265.15 307.24 L265.67 307.27 L266.19 307.24 L266.7 307.07 L267.22 306.95 L267.73 306.98 L268.25 307.1 L268.77 307.01 L269.28 306.83 L269.8 306.73 L270.31 306.78 L270.83 306.77 L271.35 306.62 L271.86 306.52 L272.38 306.59 L272.89 306.6 L273.41 306.5 L273.93 306.45 L274.44 306.3 L274.96 306.3 L275.47 306.29 L275.99 306.34 L276.51 306.32 L277.02 306.21 L277.54 306.18 L278.05 306.22 L278.57 306.13 L279.09 305.97 L279.6 305.81 L280.12 305.94 L280.63 306 L281.15 305.93 L281.67 305.82 L282.18 305.67 L282.7 305.62 L283.21 305.67 L283.73 305.54 L284.25 305.53 L284.76 305.51 L285.28 305.35 L285.79 305.3 L286.31 305.43 L286.83 305.38 L287.34 305.26 L287.86 305.3 L288.37 305.22 L288.89 305.08 L289.41 305.01 L289.92 304.97 L290.44 304.93 L290.95 304.98 L291.47 305 L291.99 304.91 L292.5 304.9 L293.02 304.81 L293.53 304.73 L294.05 304.78 L294.57 304.66 L295.08 304.54" stroke="#ff0000" stroke-width="2.8"/>
</g>
<path d="M56.2 133.9 V0.8 H295.6 V133.9 Z" fill="none" stroke="#000" stroke-width="1.7"/>
<path d="M55.5 324 V191.6 H294.7 V324 Z" fill="none" stroke="#000" stroke-width="1.7"/>
<text transform="translate(25.18 119.73) scale(0.985 0.971)" font-size="15" text-anchor="start">0.0</text>
<text transform="translate(25.18 98.12) scale(0.985 0.971)" font-size="15" text-anchor="start">0.2</text>
<text transform="translate(25.18 76.51) scale(0.985 0.971)" font-size="15" text-anchor="start">0.4</text>
<text transform="translate(25.18 54.9) scale(0.985 0.971)" font-size="15" text-anchor="start">0.6</text>
<text transform="translate(25.18 33.29) scale(0.985 0.971)" font-size="15" text-anchor="start">0.8</text>
<text transform="translate(25.18 11.68) scale(0.985 0.971)" font-size="15" text-anchor="start">1.0</text>
<text transform="translate(25.18 310.33) scale(0.985 0.971)" font-size="15" text-anchor="start">0.0</text>
<text transform="translate(25.18 288.67) scale(0.985 0.971)" font-size="15" text-anchor="start">0.2</text>
<text transform="translate(25.18 267.01) scale(0.985 0.971)" font-size="15" text-anchor="start">0.4</text>
<text transform="translate(25.18 245.35) scale(0.985 0.971)" font-size="15" text-anchor="start">0.6</text>
<text transform="translate(25.18 223.69) scale(0.985 0.971)" font-size="15" text-anchor="start">0.8</text>
<text transform="translate(25.18 202.03) scale(0.985 0.971)" font-size="15" text-anchor="start">1.0</text>
<text transform="translate(45.67 155.27) scale(0.946 0.901)" font-size="15" text-anchor="start">0.1</text>
<text transform="translate(121.2 155.27) scale(1.000 0.888)" font-size="15" text-anchor="middle">1</text>
<text transform="translate(185.8 155.27) scale(1.000 0.888)" font-size="15" text-anchor="middle">10</text>
<text transform="translate(250.4 155.27) scale(1.000 0.888)" font-size="15" text-anchor="middle">100</text>
<text transform="translate(44.77 345.13) scale(0.946 0.901)" font-size="15" text-anchor="start">0.1</text>
<text transform="translate(120.2 345.13) scale(0.982 0.944)" font-size="15" text-anchor="middle">1</text>
<text transform="translate(184.7 345.13) scale(0.982 0.944)" font-size="15" text-anchor="middle">10</text>
<text transform="translate(249.2 345.13) scale(0.982 0.944)" font-size="15" text-anchor="middle">100</text>
<text transform="translate(133.38 177.88) scale(1.0404 1.0227)" font-size="17.5">Time (ms)</text>
<text transform="translate(132.62 367.81) scale(1.0380 1.0245)" font-size="17.5">Time (ms)</text>
<text transform="translate(13.95 130.56) rotate(-90) scale(1.0485 0.9968)" font-size="17.5">O<tspan font-size="14" dy="3">2</tspan><tspan dy="-3"> signal (r.u.)</tspan></text>
<text transform="translate(13.37 320.77) rotate(-90) scale(1.0542 1.0398)" font-size="17.5">O<tspan font-size="14" dy="3">2</tspan><tspan dy="-3"> signal (r.u.)</tspan></text>
<text transform="translate(67.44 16.49) scale(0.8325 0.9506)" font-size="19">a</text>
<text transform="translate(65.83 213.09) scale(0.9856 0.9524)" font-size="19">b</text>
<text transform="translate(257.94 17.18) scale(0.9850 0.9809)" font-size="16.5">WT</text>
<text transform="translate(233.77 211.10) scale(1.0125 0.9495)" font-size="16.5">N298A</text>
<path d="M319.3 13.9 H352" stroke="#0000ff" stroke-width="2.6"/>
<text transform="translate(362.63 18.77) scale(1.003 1.006)" font-size="15.2" text-anchor="start">0°C</text>
<path d="M319.3 30.45 H352" stroke="#3a3aff" stroke-width="2.6"/>
<text transform="translate(362.63 35.32) scale(1.003 1.006)" font-size="15.2" text-anchor="start">5°C</text>
<path d="M319.3 47 H352" stroke="#7878ff" stroke-width="2.6"/>
<text transform="translate(362.63 51.87) scale(1.003 1.006)" font-size="15.2" text-anchor="start">10°C</text>
<path d="M319.3 63.55 H352" stroke="#bcbcff" stroke-width="2.6"/>
<text transform="translate(362.63 68.42) scale(1.003 1.006)" font-size="15.2" text-anchor="start">15°C</text>
<path d="M319.3 80.1 H352" stroke="#ffbcbc" stroke-width="2.6"/>
<text transform="translate(362.63 84.97) scale(1.003 1.006)" font-size="15.2" text-anchor="start">20°C</text>
<path d="M319.3 96.65 H352" stroke="#ff7878" stroke-width="2.6"/>
<text transform="translate(362.63 101.52) scale(1.003 1.006)" font-size="15.2" text-anchor="start">25°C</text>
<path d="M319.3 113.2 H352" stroke="#ff3a3a" stroke-width="2.6"/>
<text transform="translate(362.63 118.07) scale(1.003 1.006)" font-size="15.2" text-anchor="start">30°C</text>
<path d="M319.3 129.75 H352" stroke="#ff0000" stroke-width="2.6"/>
<text transform="translate(362.63 134.62) scale(1.003 1.006)" font-size="15.2" text-anchor="start">35°C</text>
<path d="M318.6 205 H351.2" stroke="#0000ff" stroke-width="2.6"/>
<text transform="translate(361.93 209.87) scale(0.963 1.006)" font-size="15.2" text-anchor="start">0°C</text>
<path d="M318.6 221.4 H351.2" stroke="#3a3aff" stroke-width="2.6"/>
<text transform="translate(361.93 226.27) scale(0.963 1.006)" font-size="15.2" text-anchor="start">5°C</text>
<path d="M318.6 237.8 H351.2" stroke="#7878ff" stroke-width="2.6"/>
<text transform="translate(361.93 242.67) scale(0.963 1.006)" font-size="15.2" text-anchor="start">10°C</text>
<path d="M318.6 254.2 H351.2" stroke="#bcbcff" stroke-width="2.6"/>
<text transform="translate(361.93 259.07) scale(0.963 1.006)" font-size="15.2" text-anchor="start">15°C</text>
<path d="M318.6 270.6 H351.2" stroke="#ffbcbc" stroke-width="2.6"/>
<text transform="translate(361.93 275.47) scale(0.963 1.006)" font-size="15.2" text-anchor="start">20°C</text>
<path d="M318.6 287 H351.2" stroke="#ff7878" stroke-width="2.6"/>
<text transform="translate(361.93 291.87) scale(0.963 1.006)" font-size="15.2" text-anchor="start">25°C</text>
<path d="M318.6 303.4 H351.2" stroke="#ff3a3a" stroke-width="2.6"/>
<text transform="translate(361.93 308.27) scale(0.963 1.006)" font-size="15.2" text-anchor="start">30°C</text>
<path d="M318.6 319.8 H351.2" stroke="#ff0000" stroke-width="2.6"/>
<text transform="translate(361.93 324.67) scale(0.963 1.006)" font-size="15.2" text-anchor="start">35°C</text>
<path d="M494.37 186.8 V208.7 M487.87 186.8 H500.87 M487.87 208.7 H500.87" stroke="#0a0aa8" stroke-width="2.4" fill="none"/>
<path d="M516.45 168.9 V196.2 M509.95 168.9 H522.95 M509.95 196.2 H522.95" stroke="#0a0aa8" stroke-width="2.4" fill="none"/>
<path d="M539.27 161.4 V179.3 M532.77 161.4 H545.77 M532.77 179.3 H545.77" stroke="#0a0aa8" stroke-width="2.4" fill="none"/>
<path d="M562.87 139.2 V159.6 M556.37 139.2 H569.37 M556.37 159.6 H569.37" stroke="#0a0aa8" stroke-width="2.4" fill="none"/>
<path d="M587.29 129.1 V141.4 M580.79 129.1 H593.79 M580.79 141.4 H593.79" stroke="#0a0aa8" stroke-width="2.4" fill="none"/>
<path d="M612.57 110 V122 M606.07 110 H619.07 M606.07 122 H619.07" stroke="#0a0aa8" stroke-width="2.4" fill="none"/>
<path d="M638.76 98.9 V108.2 M632.26 98.9 H645.26 M632.26 108.2 H645.26" stroke="#0a0aa8" stroke-width="2.4" fill="none"/>
<path d="M665.91 68.1 V77.4 M659.41 68.1 H672.41 M659.41 77.4 H672.41" stroke="#0a0aa8" stroke-width="2.4" fill="none"/>
<path d="M494.37 243.4 V263.5 M487.87 243.4 H500.87 M487.87 263.5 H500.87" stroke="#0a0aa8" stroke-width="2.4" fill="none"/>
<path d="M516.45 235.4 V264.8 M509.95 235.4 H522.95 M509.95 264.8 H522.95" stroke="#0a0aa8" stroke-width="2.4" fill="none"/>
<path d="M539.27 231.4 V254.1 M532.77 231.4 H545.77 M532.77 254.1 H545.77" stroke="#0a0aa8" stroke-width="2.4" fill="none"/>
<path d="M562.87 219.4 V239.4 M556.37 219.4 H569.37 M556.37 239.4 H569.37" stroke="#0a0aa8" stroke-width="2.4" fill="none"/>
<path d="M587.29 215.5 V226.2 M580.79 215.5 H593.79 M580.79 226.2 H593.79" stroke="#0a0aa8" stroke-width="2.4" fill="none"/>
<path d="M612.57 206.2 V222.2 M606.07 206.2 H619.07 M606.07 222.2 H619.07" stroke="#0a0aa8" stroke-width="2.4" fill="none"/>
<path d="M638.76 194.1 V211 M632.26 194.1 H645.26 M632.26 211 H645.26" stroke="#0a0aa8" stroke-width="2.4" fill="none"/>
<path d="M665.91 171.4 V182.1 M659.41 171.4 H672.41 M659.41 182.1 H672.41" stroke="#0a0aa8" stroke-width="2.4" fill="none"/>
<path d="M494.37 193.5 V207.7 M487.87 193.5 H500.87 M487.87 207.7 H500.87" stroke="#c42a36" stroke-width="2.4" fill="none"/>
<path d="M516.45 177.5 V201.5 M509.95 177.5 H522.95 M509.95 201.5 H522.95" stroke="#c42a36" stroke-width="2.4" fill="none"/>
<path d="M539.27 168.1 V195.6 M532.77 168.1 H545.77 M532.77 195.6 H545.77" stroke="#c42a36" stroke-width="2.4" fill="none"/>
<path d="M562.87 159.6 V182 M556.37 159.6 H569.37 M556.37 182 H569.37" stroke="#c42a36" stroke-width="2.4" fill="none"/>
<path d="M587.29 141.9 V166 M580.79 141.9 H593.79 M580.79 166 H593.79" stroke="#c42a36" stroke-width="2.4" fill="none"/>
<path d="M612.57 134.5 V150 M606.07 134.5 H619.07 M606.07 150 H619.07" stroke="#c42a36" stroke-width="2.4" fill="none"/>
<path d="M638.76 122 V140.3 M632.26 122 H645.26 M632.26 140.3 H645.26" stroke="#c42a36" stroke-width="2.4" fill="none"/>
<path d="M665.91 96.8 V109.7 M659.41 96.8 H672.41 M659.41 109.7 H672.41" stroke="#c42a36" stroke-width="2.4" fill="none"/>
<path d="M494.37 270.2 V292.9 M487.87 270.2 H500.87 M487.87 292.9 H500.87" stroke="#c42a36" stroke-width="2.4" fill="none"/>
<path d="M516.45 255.5 V284.9 M509.95 255.5 H522.95 M509.95 284.9 H522.95" stroke="#c42a36" stroke-width="2.4" fill="none"/>
<path d="M539.27 250.1 V276.3 M532.77 250.1 H545.77 M532.77 276.3 H545.77" stroke="#c42a36" stroke-width="2.4" fill="none"/>
<path d="M562.87 241.6 V260.8 M556.37 241.6 H569.37 M556.37 260.8 H569.37" stroke="#c42a36" stroke-width="2.4" fill="none"/>
<path d="M587.29 226.2 V249 M580.79 226.2 H593.79 M580.79 249 H593.79" stroke="#c42a36" stroke-width="2.4" fill="none"/>
<path d="M612.57 206.2 V222.7 M606.07 206.2 H619.07 M606.07 222.7 H619.07" stroke="#c42a36" stroke-width="2.4" fill="none"/>
<path d="M638.76 183.4 V195.5 M632.26 183.4 H645.26 M632.26 195.5 H645.26" stroke="#c42a36" stroke-width="2.4" fill="none"/>
<path d="M665.91 162 V175.4 M659.41 162 H672.41 M659.41 175.4 H672.41" stroke="#c42a36" stroke-width="2.4" fill="none"/>
<path d="M494.37 199 L665.91 79" stroke="#0a0aa8" stroke-width="3" fill="none"/>
<path d="M494.37 261.1 L665.91 179.6" stroke="#0a0aa8" stroke-width="3" fill="none"/>
<path d="M494.37 203.6 L665.91 108.6" stroke="#c42a36" stroke-width="3" fill="none"/>
<path d="M494.37 291.8 L665.91 170" stroke="#c42a36" stroke-width="3" fill="none"/>
<circle cx="494.37" cy="196.2" r="4.9" fill="#0a0aa8"/>
<circle cx="516.45" cy="180.1" r="4.9" fill="#0a0aa8"/>
<circle cx="539.27" cy="169.4" r="4.9" fill="#0a0aa8"/>
<circle cx="562.87" cy="149.4" r="4.9" fill="#0a0aa8"/>
<circle cx="587.29" cy="135.1" r="4.9" fill="#0a0aa8"/>
<circle cx="612.57" cy="115.4" r="4.9" fill="#0a0aa8"/>
<circle cx="638.76" cy="103.4" r="4.9" fill="#0a0aa8"/>
<circle cx="665.91" cy="72.6" r="4.9" fill="#0a0aa8"/>
<path d="M494.37 245.98 L500.57 257.45 L488.17 257.45 Z" fill="#0a0aa8"/>
<path d="M516.45 240.58 L522.65 252.05 L510.25 252.05 Z" fill="#0a0aa8"/>
<path d="M539.27 235.28 L545.47 246.75 L533.07 246.75 Z" fill="#0a0aa8"/>
<path d="M562.87 223.18 L569.07 234.65 L556.67 234.65 Z" fill="#0a0aa8"/>
<path d="M587.29 214.08 L593.49 225.55 L581.09 225.55 Z" fill="#0a0aa8"/>
<path d="M612.57 206.18 L618.77 217.65 L606.37 217.65 Z" fill="#0a0aa8"/>
<path d="M638.76 196.68 L644.96 208.15 L632.56 208.15 Z" fill="#0a0aa8"/>
<path d="M665.91 169.88 L672.11 181.35 L659.71 181.35 Z" fill="#0a0aa8"/>
<circle cx="494.37" cy="200.2" r="4.9" fill="#c42a36"/>
<circle cx="516.45" cy="189" r="4.9" fill="#c42a36"/>
<circle cx="539.27" cy="180.1" r="4.9" fill="#c42a36"/>
<circle cx="562.87" cy="169.4" r="4.9" fill="#c42a36"/>
<circle cx="587.29" cy="150.7" r="4.9" fill="#c42a36"/>
<circle cx="612.57" cy="142.1" r="4.9" fill="#c42a36"/>
<circle cx="638.76" cy="130.1" r="4.9" fill="#c42a36"/>
<circle cx="665.91" cy="102.7" r="4.9" fill="#c42a36"/>
<path d="M494.37 272.68 L500.57 284.15 L488.17 284.15 Z" fill="#c42a36"/>
<path d="M516.45 261.98 L522.65 273.45 L510.25 273.45 Z" fill="#c42a36"/>
<path d="M539.27 255.28 L545.47 266.75 L533.07 266.75 Z" fill="#c42a36"/>
<path d="M562.87 243.28 L569.07 254.75 L556.67 254.75 Z" fill="#c42a36"/>
<path d="M587.29 228.78 L593.49 240.25 L581.09 240.25 Z" fill="#c42a36"/>
<path d="M612.57 206.08 L618.77 217.55 L606.37 217.55 Z" fill="#c42a36"/>
<path d="M638.76 183.28 L644.96 194.75 L632.56 194.75 Z" fill="#c42a36"/>
<path d="M665.91 161.88 L672.11 173.35 L659.71 173.35 Z" fill="#c42a36"/>
<path d="M474.6 42.6 V322.5 H683.6 V42.6 Z" fill="none" stroke="#000" stroke-width="2"/>
<path d="M470.0 42.6 H479.6" stroke="#000" stroke-width="2.4"/>
<path d="M472.1 140.46 H477.1" stroke="#000" stroke-width="2.5"/>
<path d="M472.1 115.8 H477.1" stroke="#000" stroke-width="2.5"/>
<path d="M472.1 98.31 H477.1" stroke="#000" stroke-width="2.5"/>
<path d="M472.1 84.74 H477.1" stroke="#000" stroke-width="2.5"/>
<path d="M472.1 73.66 H477.1" stroke="#000" stroke-width="2.5"/>
<path d="M472.1 64.29 H477.1" stroke="#000" stroke-width="2.5"/>
<path d="M472.1 56.17 H477.1" stroke="#000" stroke-width="2.5"/>
<path d="M472.1 49.01 H477.1" stroke="#000" stroke-width="2.5"/>
<path d="M470.0 182.6 H479.6" stroke="#000" stroke-width="2.4"/>
<path d="M472.1 280.46 H477.1" stroke="#000" stroke-width="2.5"/>
<path d="M472.1 255.8 H477.1" stroke="#000" stroke-width="2.5"/>
<path d="M472.1 238.31 H477.1" stroke="#000" stroke-width="2.5"/>
<path d="M472.1 224.74 H477.1" stroke="#000" stroke-width="2.5"/>
<path d="M472.1 213.66 H477.1" stroke="#000" stroke-width="2.5"/>
<path d="M472.1 204.29 H477.1" stroke="#000" stroke-width="2.5"/>
<path d="M472.1 196.17 H477.1" stroke="#000" stroke-width="2.5"/>
<path d="M472.1 189.01 H477.1" stroke="#000" stroke-width="2.5"/>
<path d="M470.0 322.6 H479.6" stroke="#000" stroke-width="2.4"/>
<path d="M488.73 320.0 V325.0" stroke="#000" stroke-width="2.4"/>
<path d="M506.5 317.9 V327.5" stroke="#000" stroke-width="2.4"/>
<path d="M524.27 320.0 V325.0" stroke="#000" stroke-width="2.4"/>
<path d="M542.05 320.0 V325.0" stroke="#000" stroke-width="2.4"/>
<path d="M559.83 320.0 V325.0" stroke="#000" stroke-width="2.4"/>
<path d="M577.6 317.9 V327.5" stroke="#000" stroke-width="2.4"/>
<path d="M595.38 320.0 V325.0" stroke="#000" stroke-width="2.4"/>
<path d="M613.15 320.0 V325.0" stroke="#000" stroke-width="2.4"/>
<path d="M630.92 320.0 V325.0" stroke="#000" stroke-width="2.4"/>
<path d="M648.7 317.9 V327.5" stroke="#000" stroke-width="2.4"/>
<path d="M666.48 320.0 V325.0" stroke="#000" stroke-width="2.4"/>
<path d="M494.37 38.0 V47.2" stroke="#000" stroke-width="2"/>
<path d="M516.45 38.0 V47.2" stroke="#000" stroke-width="2"/>
<path d="M539.27 38.0 V47.2" stroke="#000" stroke-width="2"/>
<path d="M562.87 38.0 V47.2" stroke="#000" stroke-width="2"/>
<path d="M587.29 38.0 V47.2" stroke="#000" stroke-width="2"/>
<path d="M612.57 38.0 V47.2" stroke="#000" stroke-width="2"/>
<path d="M638.76 38.0 V47.2" stroke="#000" stroke-width="2"/>
<path d="M665.91 38.0 V47.2" stroke="#000" stroke-width="2"/>
<text transform="translate(447.24 47.46) scale(0.9765 0.9193)" font-size="15">10</text>
<text transform="translate(443.02 327.59) scale(0.9242 0.9909)" font-size="15">0.1</text>
<text transform="translate(463.6 187.66) scale(0.977 0.919)" font-size="15" text-anchor="end">1</text>
<text transform="translate(498.47 343.25) scale(0.952 0.942)" font-size="15" text-anchor="start">38</text>
<text transform="translate(569.57 343.25) scale(0.952 0.942)" font-size="15" text-anchor="start">40</text>
<text transform="translate(640.67 343.25) scale(0.952 0.942)" font-size="15" text-anchor="start">42</text>
<text transform="translate(487.06 28.96) scale(1.0083 0.9130)" font-size="13.5">35</text>
<text transform="translate(531.96 28.96) scale(1.008 0.913)" font-size="13.5" text-anchor="start">25</text>
<text transform="translate(579.76 29.13) scale(0.9886 0.9138)" font-size="13.5">15</text>
<text transform="translate(638.96 29.13) scale(0.989 0.914)" font-size="13.5" text-anchor="middle">5</text>
<text transform="translate(558.36 12.86) scale(1.0071 1.0279)" font-size="16">T (°C)</text>
<text transform="translate(488.45 64.67) scale(1.0075 0.9976)" font-size="19">c</text>
<text transform="translate(574.11 292.08) scale(0.8911 0.9826)" font-size="14">WT</text>
<text transform="translate(573.35 311.35) scale(0.9642 1.0202)" font-size="14">N298A</text>
<text transform="translate(526.74 369.18) scale(0.9661 1.0019)" font-size="17.7">1/k</text>
<text transform="translate(550.93 372.52) scale(1.2551 1.0139)" font-size="11">B</text>
<text transform="translate(562.65 369.18) scale(0.9332 1.0268)" font-size="17.7">T</text>
<text transform="translate(583.67 369.67) scale(1.0880 1.0199)" font-size="17.7">eV</text>
<text transform="translate(617.96 362.18) scale(1.0237 1.0109)" font-size="12"><tspan font-weight="normal">1</tspan></text>
<text transform="translate(440.25 209.65) rotate(-90) scale(1.6448 0.9068)" font-size="20">τ</text>
<text transform="translate(440.79 191.40) rotate(-90) scale(0.9512 1.0134)" font-size="18">(ms)</text>
<text transform="translate(651.20 291.45) scale(1.1155 0.7665)" font-size="16">τ</text>
<text transform="translate(659.53 294.22) scale(1.0192 1.0003)" font-size="10">O</text>
<text transform="translate(667.65 295.93) scale(1.0618 0.9518)" font-size="7.5">2</text>
<text transform="translate(651.06 311.40) scale(1.1305 0.8102)" font-size="16">τ</text>
<text transform="translate(659.18 313.94) scale(0.9584 0.7940)" font-size="12">pre</text>
<text transform="translate(578.3 369.18) scale(0.933 1.027)" font-size="17.7" text-anchor="start">(</text>
<text transform="translate(626.3 369.18) scale(0.933 1.027)" font-size="17.7" text-anchor="start">)</text>
<rect x="607.8" y="358.2" width="8.4" height="1.3" fill="#000"/>
<rect x="542.4" y="282.4" width="28.3" height="10.2" fill="#0a0aa8"/>
<rect x="542.4" y="301.7" width="28.3" height="10.2" fill="#c42a36"/>
<circle cx="637.4" cy="287.5" r="5.9" fill="#000"/>
<path d="M637.6 300.5 L644 313.3 L631.2 313.3 Z" fill="#000"/>
</svg>
</body></html>
